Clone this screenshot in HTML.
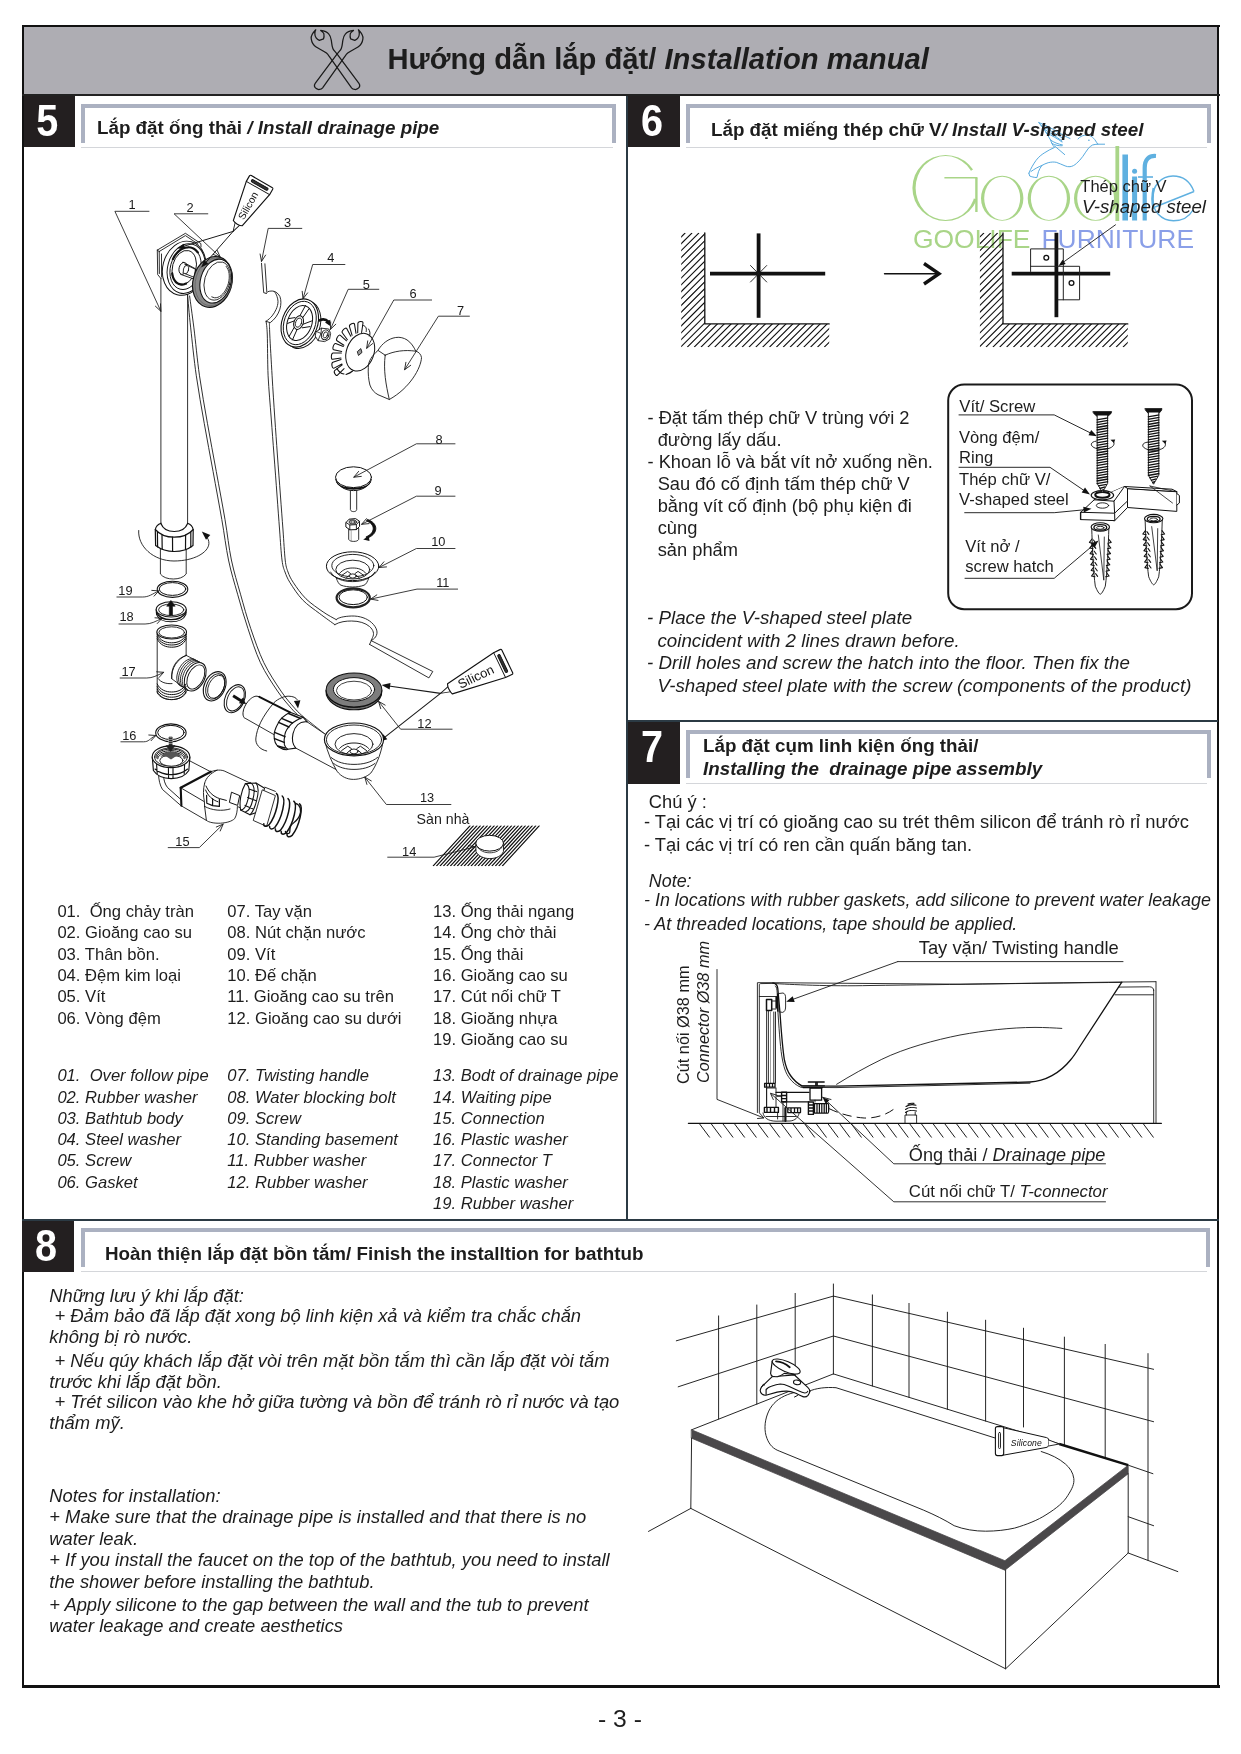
<!DOCTYPE html>
<html lang="vi">
<head>
<meta charset="utf-8">
<title>Installation manual - 3</title>
<style>
html,body{margin:0;padding:0;background:#fff;}
body{width:1241px;height:1754px;position:relative;overflow:hidden;font-family:"Liberation Sans",sans-serif;color:#1a1a1a;}
.abs{position:absolute;}
.t{position:absolute;white-space:pre;line-height:1;color:#1d1d1d;}
.b{font-weight:bold;}
.i{font-style:italic;}
.num{will-change:transform;position:absolute;background:#231f20;color:#fff;font-weight:bold;font-size:45px;line-height:1;text-align:center;}
.bar{position:absolute;border:4px solid #abb1c1;border-bottom:none;box-sizing:border-box;background:#fff;}
.thin{position:absolute;height:1px;background:#d4d6da;}
.dk{position:absolute;background:#2b3a44;}
.bk{position:absolute;background:#111;}
svg{position:absolute;left:0;top:0;overflow:visible;z-index:2;will-change:transform;}
#txt{position:absolute;left:0;top:0;z-index:3;will-change:transform;}
</style>
</head>
<body>
<!-- header band -->
<div class="abs" style="left:24px;top:27px;width:1194px;height:68px;background:#aeadb3;"></div>
<!-- outer frame -->
<div class="bk" style="left:22px;top:25px;width:1197.5px;height:2.2px;"></div>
<div class="bk" style="left:22px;top:1685.4px;width:1197.5px;height:2.3px;"></div>
<div class="bk" style="left:22px;top:25px;width:2.2px;height:1662.7px;"></div>
<div class="bk" style="left:1217.3px;top:25px;width:2.2px;height:1662.8px;"></div>
<div class="bk" style="left:22px;top:94px;width:1197.5px;height:2.3px;background:#222;"></div>
<!-- dividers -->
<div class="dk" style="left:626px;top:96px;width:2.2px;height:1124px;"></div>
<div class="dk" style="left:627px;top:719.8px;width:591px;height:2.2px;"></div>
<div class="dk" style="left:22px;top:1218.8px;width:1197px;height:2.2px;"></div>

<!-- number boxes -->
<div class="num" style="left:24px;top:96px;width:50.5px;height:51px;"><span class="abs" style="left:-2px;width:100%;top:2px;transform:scaleX(0.88);">5</span></div>
<div class="num" style="left:628px;top:96px;width:52px;height:51px;"><span class="abs" style="left:-2px;width:100%;top:2px;transform:scaleX(0.88);">6</span></div>
<div class="num" style="left:628px;top:722px;width:52px;height:61.5px;"><span class="abs" style="left:-2px;width:100%;top:2px;transform:scaleX(0.88);">7</span></div>
<div class="num" style="left:21.5px;top:1221px;width:52px;height:50.5px;"><span class="abs" style="left:-2px;width:100%;top:2px;transform:scaleX(0.88);">8</span></div>

<!-- title bars -->
<div class="bar" style="left:81px;top:104px;width:535px;height:38.5px;"></div>
<div class="thin" style="left:81px;top:147px;width:532px;"></div>
<div class="bar" style="left:685.5px;top:104px;width:525px;height:38.5px;"></div>
<div class="thin" style="left:686px;top:147px;width:521px;"></div>
<div class="bar" style="left:685.5px;top:729.5px;width:525px;height:48.5px;"></div>
<div class="thin" style="left:686px;top:783px;width:521px;"></div>
<div class="bar" style="left:81px;top:1228.3px;width:1129px;height:38.5px;"></div>
<div class="thin" style="left:81px;top:1271px;width:1126px;"></div>

<!-- TEXT -->
<div id="txt">
<div class="t b" id="h0" style="left:387.5px;top:44.7px;font-size:29.2px;">Hướng dẫn lắp đặt/ <span class="i">Installation manual</span></div>
<div class="t b" id="h5" style="left:97px;top:118.8px;font-size:18.8px;">Lắp đặt ống thải <span class="i">/ Install drainage pipe</span></div>
<div class="t b" id="h6" style="left:711px;top:120.8px;font-size:18.8px;">Lắp đặt miếng thép chữ V<span class="i">/ Install V-shaped steel</span></div>
<div class="t b" id="h7a" style="left:703px;top:737.3px;font-size:18.8px;">Lắp đặt cụm linh kiện ống thải/</div>
<div class="t b i" id="h7b" style="left:703px;top:760.3px;font-size:18.8px;">Installing the  drainage pipe assembly</div>
<div class="t b" id="h8" style="left:105px;top:1244.8px;font-size:18.8px;">Hoàn thiện lắp đặt bồn tắm/ Finish the installtion for bathtub</div>
<div class="t " id="vn0_0" style="left:57.4px;top:903.8px;font-size:16.6px;">01.  Ống chảy tràn</div>
<div class="t " id="vn0_1" style="left:57.4px;top:925.2px;font-size:16.6px;">02. Gioăng cao su</div>
<div class="t " id="vn0_2" style="left:57.4px;top:946.5px;font-size:16.6px;">03. Thân bồn.</div>
<div class="t " id="vn0_3" style="left:57.4px;top:967.9px;font-size:16.6px;">04. Đệm kim loại</div>
<div class="t " id="vn0_4" style="left:57.4px;top:989.2px;font-size:16.6px;">05. Vít</div>
<div class="t " id="vn0_5" style="left:57.4px;top:1010.6px;font-size:16.6px;">06. Vòng đệm</div>
<div class="t i" id="en0_0" style="left:57.4px;top:1068.2px;font-size:16.6px;">01.  Over follow pipe</div>
<div class="t i" id="en0_1" style="left:57.4px;top:1089.5px;font-size:16.6px;">02. Rubber washer</div>
<div class="t i" id="en0_2" style="left:57.4px;top:1110.7px;font-size:16.6px;">03. Bathtub body</div>
<div class="t i" id="en0_3" style="left:57.4px;top:1132.0px;font-size:16.6px;">04. Steel washer</div>
<div class="t i" id="en0_4" style="left:57.4px;top:1153.2px;font-size:16.6px;">05. Screw</div>
<div class="t i" id="en0_5" style="left:57.4px;top:1174.5px;font-size:16.6px;">06. Gasket</div>
<div class="t " id="vn1_0" style="left:227.3px;top:903.8px;font-size:16.6px;">07. Tay vặn</div>
<div class="t " id="vn1_1" style="left:227.3px;top:925.2px;font-size:16.6px;">08. Nút chặn nước</div>
<div class="t " id="vn1_2" style="left:227.3px;top:946.5px;font-size:16.6px;">09. Vít</div>
<div class="t " id="vn1_3" style="left:227.3px;top:967.9px;font-size:16.6px;">10. Đế chặn</div>
<div class="t " id="vn1_4" style="left:227.3px;top:989.2px;font-size:16.6px;">11. Gioăng cao su trên</div>
<div class="t " id="vn1_5" style="left:227.3px;top:1010.6px;font-size:16.6px;">12. Gioăng cao su dưới</div>
<div class="t i" id="en1_0" style="left:227.3px;top:1068.2px;font-size:16.6px;">07. Twisting handle</div>
<div class="t i" id="en1_1" style="left:227.3px;top:1089.5px;font-size:16.6px;">08. Water blocking bolt</div>
<div class="t i" id="en1_2" style="left:227.3px;top:1110.7px;font-size:16.6px;">09. Screw</div>
<div class="t i" id="en1_3" style="left:227.3px;top:1132.0px;font-size:16.6px;">10. Standing basement</div>
<div class="t i" id="en1_4" style="left:227.3px;top:1153.2px;font-size:16.6px;">11. Rubber washer</div>
<div class="t i" id="en1_5" style="left:227.3px;top:1174.5px;font-size:16.6px;">12. Rubber washer</div>
<div class="t " id="vn2_0" style="left:433px;top:903.8px;font-size:16.6px;">13. Ống thải ngang</div>
<div class="t " id="vn2_1" style="left:433px;top:925.2px;font-size:16.6px;">14. Ống chờ thải</div>
<div class="t " id="vn2_2" style="left:433px;top:946.5px;font-size:16.6px;">15. Ống thải</div>
<div class="t " id="vn2_3" style="left:433px;top:967.9px;font-size:16.6px;">16. Gioăng cao su</div>
<div class="t " id="vn2_4" style="left:433px;top:989.2px;font-size:16.6px;">17. Cút nối chữ T</div>
<div class="t " id="vn2_5" style="left:433px;top:1010.6px;font-size:16.6px;">18. Gioăng nhựa</div>
<div class="t " id="vn2_6" style="left:433px;top:1031.9px;font-size:16.6px;">19. Gioăng cao su</div>
<div class="t i" id="en2_0" style="left:433px;top:1068.2px;font-size:16.6px;">13. Bodt of drainage pipe</div>
<div class="t i" id="en2_1" style="left:433px;top:1089.5px;font-size:16.6px;">14. Waiting pipe</div>
<div class="t i" id="en2_2" style="left:433px;top:1110.7px;font-size:16.6px;">15. Connection</div>
<div class="t i" id="en2_3" style="left:433px;top:1132.0px;font-size:16.6px;">16. Plastic washer</div>
<div class="t i" id="en2_4" style="left:433px;top:1153.2px;font-size:16.6px;">17. Connector T</div>
<div class="t i" id="en2_5" style="left:433px;top:1174.5px;font-size:16.6px;">18. Plastic washer</div>
<div class="t i" id="en2_6" style="left:433px;top:1195.7px;font-size:16.6px;">19. Rubber washer</div>
<div class="t " id="p6v0" style="left:647.5px;top:408.6px;font-size:18.3px;">- Đặt tấm thép chữ V trùng với 2</div>
<div class="t " id="p6v1" style="left:647.5px;top:430.5px;font-size:18.3px;">  đường lấy dấu.</div>
<div class="t " id="p6v2" style="left:647.5px;top:452.7px;font-size:18.3px;">- Khoan lỗ và bắt vít nở xuống nền.</div>
<div class="t " id="p6v3" style="left:647.5px;top:474.8px;font-size:18.3px;">  Sau đó cố định tấm thép chữ V</div>
<div class="t " id="p6v4" style="left:647.5px;top:496.8px;font-size:18.3px;">  bằng vít cố định (bộ phụ kiện đi</div>
<div class="t " id="p6v5" style="left:647.5px;top:518.7px;font-size:18.3px;">  cùng</div>
<div class="t " id="p6v6" style="left:647.5px;top:540.6px;font-size:18.3px;">  sản phẩm</div>
<div class="t i" id="p6e0" style="left:647px;top:608.8px;font-size:18.75px;">- Place the V-shaped steel plate</div>
<div class="t i" id="p6e1" style="left:647px;top:632.0px;font-size:18.75px;">  coincident with 2 lines drawn before.</div>
<div class="t i" id="p6e2" style="left:647px;top:653.8px;font-size:18.75px;">- Drill holes and screw the hatch into the floor. Then fix the</div>
<div class="t i" id="p6e3" style="left:647px;top:676.5px;font-size:18.75px;">  V-shaped steel plate with the screw (components of the product)</div>
<div class="t " id="p7a" style="left:648.8px;top:792.7px;font-size:18.3px;">Chú ý :</div>
<div class="t " id="p7b" style="left:644px;top:813.2px;font-size:18.35px;">- Tại các vị trí có gioăng cao su trét thêm silicon để tránh rò rỉ nước</div>
<div class="t " id="p7c" style="left:644px;top:836.3px;font-size:18.35px;">- Tại các vị trí có ren cần quấn băng tan.</div>
<div class="t i" id="p7d" style="left:648.8px;top:872.7px;font-size:17.9px;">Note:</div>
<div class="t i" id="p7e" style="left:644px;top:892.4px;font-size:17.9px;">- In locations with rubber gaskets, add silicone to prevent water leakage</div>
<div class="t i" id="p7f" style="left:644px;top:915.5px;font-size:17.9px;">- At threaded locations, tape should be applied.</div>
<div class="t " id="p7g" style="left:918.7px;top:939.3px;font-size:18.4px;">Tay vặn/ Twisting handle</div>
<div class="t " id="p7h" style="left:908.8px;top:1146.3px;font-size:18.15px;">Ống thải / <span class="i">Drainage pipe</span></div>
<div class="t " id="p7i" style="left:908.8px;top:1183.5px;font-size:16.8px;">Cút nối chữ T/ <span class="i">T-connector</span></div>
<div class="t" id="p7j" style="left:674.5px;top:1083.9px;font-size:16.3px;transform-origin:0 0;transform:rotate(-90deg);">Cút nối Ø38 mm</div>
<div class="t i" id="p7k" style="left:695.2px;top:1083.4px;font-size:16.3px;transform-origin:0 0;transform:rotate(-90deg);">Connector Ø38 mm</div>
<div class="t " id="l6a" style="left:1080.3px;top:177.6px;font-size:16.5px;">Thép chữ V</div>
<div class="t i" id="l6b" style="left:1082px;top:198.1px;font-size:18.7px;">V-shaped steel</div>
<div class="t " id="l6c" style="left:959.3px;top:399.2px;font-size:16.7px;">Vít/ Screw</div>
<div class="t " id="l6d" style="left:959px;top:430.4px;font-size:16.6px;">Vòng đệm/</div>
<div class="t " id="l6e" style="left:959px;top:449.9px;font-size:16.6px;">Ring</div>
<div class="t " id="l6f" style="left:959px;top:472.4px;font-size:16.6px;">Thép chữ V/</div>
<div class="t " id="l6g" style="left:959px;top:492.2px;font-size:16.6px;">V-shaped steel</div>
<div class="t " id="l6h" style="left:965.3px;top:539.3px;font-size:16.6px;">Vít nở /</div>
<div class="t " id="l6i" style="left:965.3px;top:559.3px;font-size:16.6px;">screw hatch</div>
<div class="t i" id="p8v0" style="left:49.3px;top:1287.0px;font-size:18.35px;">Những lưu ý khi lắp đặt:</div>
<div class="t i" id="p8v1" style="left:49.3px;top:1307.2px;font-size:18.35px;"> + Đảm bảo đã lắp đặt xong bộ linh kiện xả và kiểm tra chắc chắn</div>
<div class="t i" id="p8v2" style="left:49.3px;top:1328.1px;font-size:18.35px;">không bị rò nước.</div>
<div class="t i" id="p8v3" style="left:49.3px;top:1352.2px;font-size:18.35px;"> + Nếu qúy khách lắp đặt vòi trên mặt bồn tắm thì cần lắp đặt vòi tắm</div>
<div class="t i" id="p8v4" style="left:49.3px;top:1372.6px;font-size:18.35px;">trước khi lắp đặt bồn.</div>
<div class="t i" id="p8v5" style="left:49.3px;top:1393.3px;font-size:18.35px;"> + Trét silicon vào khe hở giữa tường và bồn để tránh rò rỉ nước và tạo</div>
<div class="t i" id="p8v6" style="left:49.3px;top:1413.7px;font-size:18.35px;">thẩm mỹ.</div>
<div class="t i" id="p8e0" style="left:49.3px;top:1487.4px;font-size:18.35px;">Notes for installation:</div>
<div class="t i" id="p8e1" style="left:49.3px;top:1508.0px;font-size:18.35px;">+ Make sure that the drainage pipe is installed and that there is no</div>
<div class="t i" id="p8e2" style="left:49.3px;top:1529.7px;font-size:18.35px;">water leak.</div>
<div class="t i" id="p8e3" style="left:49.3px;top:1551.4px;font-size:18.35px;">+ If you install the faucet on the top of the bathtub, you need to install</div>
<div class="t i" id="p8e4" style="left:49.3px;top:1573.2px;font-size:18.35px;">the shower before installing the bathtub.</div>
<div class="t i" id="p8e5" style="left:49.3px;top:1595.6px;font-size:18.35px;">+ Apply silicone to the gap between the wall and the tub to prevent</div>
<div class="t i" id="p8e6" style="left:49.3px;top:1617.2px;font-size:18.35px;">water leakage and create aesthetics</div>
<div class="t " id="pg" style="left:598px;top:1707.3px;font-size:24.7px;">- 3 -</div>
<div class="t " id="san" style="left:416.6px;top:811.5px;font-size:14.2px;">Sàn nhà</div>
</div>

<svg id="art" width="1241" height="1754" viewBox="0 0 1241 1754" fill="none" stroke="#1a1a1a" stroke-width="1" stroke-linecap="round" stroke-linejoin="round">
<g id="art_p6">
<g id="logo" fill="none" stroke-linecap="butt">
<clipPath id="gclip"><path d="M900 140L962 140L978 166L946 188L978 200L1000 200L1000 230L900 230Z"/></clipPath>
<g clip-path="url(#gclip)"><path fill-rule="evenodd" fill="#a9d588" stroke="none" d="M912.4 188A33.2 33 0 1 0 978.8000000000001 188A33.2 33 0 1 0 912.4 188ZM915.6 188A30 32 0 1 0 975.6 188A30 32 0 1 0 915.6 188Z"/></g>
<path d="M944.4 177.8L977.4 177.8" stroke="#a9d588" stroke-width="1.6"/>
<path d="M976.4 177.8L976.4 212" stroke="#a9d588" stroke-width="2.4"/>
<path fill-rule="evenodd" fill="#a9d588" stroke="none" d="M981.0 198.3A21.2 22.5 0 1 0 1023.4000000000001 198.3A21.2 22.5 0 1 0 981.0 198.3ZM984.2 198.3A18 21.6 0 1 0 1020.2 198.3A18 21.6 0 1 0 984.2 198.3Z"/>
<path fill-rule="evenodd" fill="#a9d588" stroke="none" d="M1027.7 198.3A21.2 22.5 0 1 0 1070.1000000000001 198.3A21.2 22.5 0 1 0 1027.7 198.3ZM1030.9 198.3A18 21.6 0 1 0 1066.9 198.3A18 21.6 0 1 0 1030.9 198.3Z"/>
<path fill-rule="evenodd" fill="#a9d588" stroke="none" d="M1074.0 198.3A21.6 22.5 0 1 0 1117.1999999999998 198.3A21.6 22.5 0 1 0 1074.0 198.3ZM1077.1999999999998 198.3A18.4 21.6 0 1 0 1114.0 198.3A18.4 21.6 0 1 0 1077.1999999999998 198.3Z"/>
<line x1="1117.3" y1="146" x2="1117.3" y2="221" stroke-width="3.8" stroke="#a9d588"/>
<line x1="1125.2" y1="154.5" x2="1125.2" y2="220.5" stroke-width="5.6" stroke="#5fb0e0"/>
<line x1="1134.6" y1="176.5" x2="1134.6" y2="220.5" stroke-width="5" stroke="#5fb0e0"/>
<circle cx="1134.6" cy="171.3" r="2.5" fill="#5fb0e0" stroke="none"/>
<path d="M1144.7 220.5L1144.7 168C1144.7 159 1149 155.5 1156 156" stroke="#5fb0e0" stroke-width="4.2"/>
<line x1="1138" y1="177" x2="1153" y2="177" stroke-width="1.6" stroke="#5fb0e0"/>
<path d="M1194 191.5L1155 207M1194 191.5C1190 181 1182 176 1173 176C1161 176 1152.5 186 1152.5 198.5C1152.5 211 1161 220.8 1173.5 220.8C1182 220.8 1189 217 1193 210" stroke="#5fb0e0" stroke-width="1.4"/>
<path d="M1153.8 188C1152.2 195 1152.2 203 1153.8 209" stroke="#5fb0e0" stroke-width="2.6"/>
<path d="M1028.9 173.2C1031 168 1033.5 164 1036.1 160.3C1039 156.5 1041.5 154.8 1044.2 153C1047.5 150.8 1051 149 1054.6 147.4C1052.5 145 1051.3 142.5 1050.6 140.1C1048.5 136.5 1046.5 133 1044.2 129.7C1042.5 127 1040.5 124.6 1038.5 122.4C1045 125 1052 128.5 1058 132C1062 134.5 1066.5 137 1070 138.5M1041 125.5C1048 129 1056 134 1064 139M1043 128.5C1049 132 1056 136.5 1062 141M1046 132.6C1052 135.6 1058 139 1062 142M1050.6 140.1C1054 142.5 1058 144 1062.5 145M1052 143.5C1055 145.2 1059 146 1062 145.8M1054.6 146L1064.7 154.6M1078 138.9C1080 136.8 1082 135.6 1084.5 135.3C1087 135 1089 135.4 1090.9 136.1C1093 137.5 1094.5 139 1095.7 141C1096.5 142.2 1097.2 143.3 1097.8 144.2L1104.6 144.2M1097.8 144.2C1096 144.3 1094 144.5 1092.5 145C1091 145.8 1089.8 147 1088.5 148.2C1086.5 150.8 1084.8 153.5 1082.9 156.3C1081 159 1078.8 161.4 1076.4 163.5C1074.5 165.2 1072.4 166.4 1070 166.7C1068.2 166.9 1066.6 166.5 1065.1 165.9C1062 164.8 1059.2 163.2 1056.3 162.3C1053.5 161.8 1051 162 1048.2 162.7C1046 163.4 1043.8 164.3 1041.8 165.5C1040.4 167.5 1039.3 169.5 1038.5 171.6L1036.9 177.6C1034 177.4 1031.5 176.8 1029.7 176L1028.9 173.2M1031 171.5C1034.5 169 1038 167 1041.8 165.5" stroke="#4fa5dc" stroke-width="0.95" stroke-linecap="round"/>
<circle cx="1088.9" cy="140.2" r="0.8" fill="#4fa5dc" stroke="none"/>
</g>
<text x="913" y="248.3" font-family="Liberation Sans, sans-serif" font-size="26.4" fill="#a9d588" stroke="none" textLength="117.5" lengthAdjust="spacingAndGlyphs">GOOLIFE</text>
<text x="1041.5" y="248.3" font-family="Liberation Sans, sans-serif" font-size="26.4" fill="#8a9fe8" stroke="none" textLength="152.5" lengthAdjust="spacingAndGlyphs">FURNITURE</text>
<clipPath id="hc1"><path d="M681.2 232.8L704.8 232.8L704.8 323.9L829.2 323.9L829.2 347.2L681.2 347.2Z"/></clipPath><g clip-path="url(#hc1)" stroke="#111" stroke-width="1.15" stroke-linecap="butt"><path d="M564 347.2L678.4 232.8M570.9 347.2L685.3 232.8M577.7 347.2L692.1 232.8M584.6 347.2L699 232.8M591.4 347.2L705.8 232.8M598.3 347.2L712.7 232.8M605.1 347.2L719.5 232.8M612 347.2L726.4 232.8M618.8 347.2L733.2 232.8M625.7 347.2L740.1 232.8M632.5 347.2L746.9 232.8M639.4 347.2L753.8 232.8M646.2 347.2L760.6 232.8M653.1 347.2L767.5 232.8M659.9 347.2L774.3 232.8M666.8 347.2L781.2 232.8M673.6 347.2L788 232.8M680.5 347.2L794.9 232.8M687.3 347.2L801.7 232.8M694.2 347.2L808.6 232.8M701 347.2L815.4 232.8M707.9 347.2L822.3 232.8M714.7 347.2L829.1 232.8M721.6 347.2L836 232.8M728.4 347.2L842.8 232.8M735.3 347.2L849.7 232.8M742.1 347.2L856.5 232.8M749 347.2L863.4 232.8M755.8 347.2L870.2 232.8M762.7 347.2L877.1 232.8M769.5 347.2L883.9 232.8M776.4 347.2L890.8 232.8M783.2 347.2L897.6 232.8M790.1 347.2L904.5 232.8M796.9 347.2L911.3 232.8M803.8 347.2L918.2 232.8M810.6 347.2L925 232.8M817.5 347.2L931.9 232.8M824.3 347.2L938.7 232.8"/></g><path d="M704.8 232.8L704.8 323.9L829.2 323.9" stroke-width="1.3" stroke="#111"/>
<clipPath id="hc2"><path d="M979.9 232.8L1003 232.8L1003 323.9L1127.8 323.9L1127.8 347.2L979.9 347.2Z"/></clipPath><g clip-path="url(#hc2)" stroke="#111" stroke-width="1.15" stroke-linecap="butt"><path d="M862.7 347.2L977.1 232.8M869.6 347.2L984 232.8M876.4 347.2L990.8 232.8M883.3 347.2L997.7 232.8M890.1 347.2L1004.5 232.8M897 347.2L1011.4 232.8M903.8 347.2L1018.2 232.8M910.7 347.2L1025.1 232.8M917.5 347.2L1031.9 232.8M924.4 347.2L1038.8 232.8M931.2 347.2L1045.6 232.8M938.1 347.2L1052.5 232.8M944.9 347.2L1059.3 232.8M951.8 347.2L1066.2 232.8M958.6 347.2L1073 232.8M965.5 347.2L1079.9 232.8M972.3 347.2L1086.7 232.8M979.2 347.2L1093.6 232.8M986 347.2L1100.4 232.8M992.9 347.2L1107.3 232.8M999.7 347.2L1114.1 232.8M1006.6 347.2L1121 232.8M1013.4 347.2L1127.8 232.8M1020.3 347.2L1134.7 232.8M1027.1 347.2L1141.5 232.8M1034 347.2L1148.4 232.8M1040.8 347.2L1155.2 232.8M1047.7 347.2L1162.1 232.8M1054.5 347.2L1168.9 232.8M1061.4 347.2L1175.8 232.8M1068.2 347.2L1182.6 232.8M1075 347.2L1189.5 232.8M1081.9 347.2L1196.3 232.8M1088.7 347.2L1203.1 232.8M1095.6 347.2L1210 232.8M1102.4 347.2L1216.8 232.8M1109.3 347.2L1223.7 232.8M1116.1 347.2L1230.5 232.8M1123 347.2L1237.4 232.8"/></g><path d="M1003 232.8L1003 323.9L1127.8 323.9" stroke-width="1.3" stroke="#111"/>
<line x1="758.6" y1="233.4" x2="758.6" y2="317.8" stroke-width="3.8" stroke="#111" stroke-linecap="butt"/>
<line x1="710" y1="273.7" x2="825.2" y2="273.7" stroke-width="3.8" stroke="#111" stroke-linecap="butt"/>
<line x1="750.5" y1="265.5" x2="766.7" y2="282" stroke-width="0.9"/>
<line x1="766.7" y1="265.5" x2="750.5" y2="282" stroke-width="0.9"/>
<line x1="884.5" y1="273.7" x2="937" y2="273.7" stroke-width="1.4" stroke="#111"/>
<path d="M924 263.5L939 273.7L924 284" stroke-width="3.4" stroke="#111" stroke-linejoin="miter" stroke-linecap="butt"/>
<line x1="1056.4" y1="232.8" x2="1056.4" y2="317.2" stroke-width="3.8" stroke="#111" stroke-linecap="butt"/>
<line x1="1011.7" y1="273.6" x2="1110.2" y2="273.6" stroke-width="3.8" stroke="#111" stroke-linecap="butt"/>
<path d="M1030.6 271.5L1030.6 248.9L1063.3 248.9L1063.3 299.8M1030.6 266.3L1079.6 266.3L1079.6 299.8L1058 299.8" stroke-width="1" stroke="#222"/>
<circle cx="1046.3" cy="257.7" r="2.4" stroke-width="1.3" stroke="#111"/>
<circle cx="1071.5" cy="283" r="2.4" stroke-width="1.3" stroke="#111"/>
<line x1="1115.5" y1="224.8" x2="1061.5" y2="263.5" stroke-width="0.9"/>
<path d="M1058.5 266L1062.6 259.8L1065.7 264Z" fill="#111" stroke="none"/>
</g>
<g id="art_box">
<rect x="948.2" y="384.6" width="243.8" height="224.6" rx="16" ry="16" stroke-width="2" stroke="#1a1a1a" fill="none"/>
<path d="M1091.7 527C1092.3 547 1093.3 572 1095.3 586.2C1097.3 591.2 1099.3 594.2 1100.3 594.2C1101.3 594.2 1103.3 591.2 1105.3 586.2C1107.3 572 1108.3 547 1108.8999999999999 527" stroke-width="0.9" stroke="#111" fill="#fff"/><path d="M1098.3 535L1103.8 580.2L1104.3 537" stroke-width="0.8" stroke="#111"/><path d="M1092 539L1089.4 542.4L1092.8 543.2M1108.6 539L1111.2 542.4L1107.8 543.2M1093.5 540L1095.5 542.8M1092.3 544.6L1089.8 548L1093.1 548.8M1108.2 544.6L1110.8 548L1107.5 548.8M1093.8 545.6L1095.8 548.4M1092.7 550.2L1090.1 553.6L1093.5 554.4M1107.9 550.2L1110.5 553.6L1107.1 554.4M1094.2 551.2L1096.2 554M1093 555.8L1090.5 559.2L1093.8 560M1107.5 555.8L1110.1 559.2L1106.8 560M1094.5 556.8L1096.5 559.6M1093.4 561.4L1090.8 564.8L1094.2 565.6M1107.2 561.4L1109.8 564.8L1106.4 565.6M1094.9 562.4L1096.9 565.2M1093.8 567L1091.2 570.4L1094.5 571.2M1106.8 567L1109.4 570.4L1106 571.2M1095.2 568L1097.2 570.8M1094.1 572.6L1091.5 576L1094.9 576.8M1106.5 572.6L1109.1 576L1105.7 576.8M1095.6 573.6L1097.6 576.4" stroke-width="1.1" stroke="#111" fill="none"/><ellipse cx="1100.3" cy="527" rx="9.2" ry="4.2" stroke-width="1.1" stroke="#111" fill="#fff"/><ellipse cx="1100.3" cy="527.4" rx="6.4" ry="2.7" stroke-width="1.3" stroke="#111" fill="#fff"/><ellipse cx="1100.3" cy="527.8" rx="3.8" ry="1.5" stroke-width="0.9" stroke="#111"/>
<path d="M1145.1000000000001 518.6C1145.7 538.6 1146.7 563.6 1148.7 576.8C1150.7 581.8 1152.7 584.8 1153.7 584.8C1154.7 584.8 1156.7 581.8 1158.7 576.8C1160.7 563.6 1161.7 538.6 1162.3 518.6" stroke-width="0.9" stroke="#111" fill="#fff"/><path d="M1151.7 526.6L1157.2 570.8L1157.7 528.6" stroke-width="0.8" stroke="#111"/><path d="M1145.4 530.6L1142.8 534L1146.2 534.8M1162 530.6L1164.6 534L1161.2 534.8M1146.9 531.6L1148.9 534.4M1145.8 536.2L1143.2 539.6L1146.5 540.4M1161.7 536.2L1164.2 539.6L1160.9 540.4M1147.2 537.2L1149.2 540M1146.1 541.8L1143.5 545.2L1146.9 546M1161.3 541.8L1163.9 545.2L1160.5 546M1147.6 542.8L1149.6 545.6M1146.5 547.4L1143.9 550.8L1147.2 551.6M1161 547.4L1163.5 550.8L1160.2 551.6M1148 548.4L1150 551.2M1146.8 553L1144.2 556.4L1147.6 557.2M1160.6 553L1163.2 556.4L1159.8 557.2M1148.3 554L1150.3 556.8M1147.2 558.6L1144.6 562L1148 562.8M1160.2 558.6L1162.8 562L1159.5 562.8M1148.7 559.6L1150.7 562.4M1147.5 564.2L1144.9 567.6L1148.3 568.4M1159.9 564.2L1162.5 567.6L1159.1 568.4M1149 565.2L1151 568" stroke-width="1.1" stroke="#111" fill="none"/><ellipse cx="1153.7" cy="518.6" rx="9.2" ry="4.2" stroke-width="1.1" stroke="#111" fill="#fff"/><ellipse cx="1153.7" cy="519" rx="6.4" ry="2.7" stroke-width="1.3" stroke="#111" fill="#fff"/><ellipse cx="1153.7" cy="519.4" rx="3.8" ry="1.5" stroke-width="0.9" stroke="#111"/>
<path d="M1127.5 488.5L1176.8 491.6L1176.8 511.4L1127.5 507.5Z" stroke-width="1" stroke="#111" fill="#fff"/>
<path d="M1127.5 488.5L1124.5 486.5L1172 489.2L1176.8 491.6Z" stroke-width="1" stroke="#111" fill="#fff"/>
<path d="M1176.8 493.5L1179.4 495.5L1179.4 503L1176.8 505" stroke-width="1" stroke="#111" fill="#fff"/>
<path d="M1080.8 512.3L1094.2 499.8L1124.5 486.5L1127.5 488.5L1127.5 507.5L1114.8 520.6Z" stroke-width="1" stroke="#111" fill="#fff"/>
<path d="M1094.2 499.8L1114 501.2L1124.5 486.5" stroke-width="1" stroke="#111" fill="#fff"/>
<path d="M1114 501.2L1114.6 513.2L1127.5 501" stroke-width="1" stroke="#111" fill="#fff"/>
<path d="M1080.8 512.3L1114.6 513.2L1114.8 520.6L1080.8 519.6Z" stroke-width="1" stroke="#111" fill="#fff"/>
<path d="M1080.8 512.3L1080.8 519.6" stroke-width="1" stroke="#111" fill="#fff"/>
<ellipse cx="1102.5" cy="505.5" rx="6.2" ry="2.7" stroke-width="0.9" stroke="#111" fill="#fff"/>
<line x1="1150" y1="486" x2="1172.5" y2="503" stroke-width="0.8"/>
<line x1="1150" y1="486" x2="1175" y2="491.5" stroke-width="0.8"/>
<ellipse cx="1102.4" cy="495.2" rx="11.2" ry="4.6" stroke-width="1.2" stroke="#111" fill="#fff"/>
<ellipse cx="1102.4" cy="494.8" rx="7.2" ry="2.9" stroke-width="2.0" stroke="#111" fill="#fff"/>
<path d="M1093.2 411.6L1111.6000000000001 411.6L1111.1000000000001 413.40000000000003L1107.6000000000001 416.6L1097.2 416.6L1093.7 413.40000000000003Z" fill="#111" stroke="#111" stroke-width="0.8"/><path d="M1097.2 415.6L1097.2 483.5L1102.4 492.5L1107.6000000000001 483.5L1107.6000000000001 415.6" stroke-width="0.9" stroke="#111" fill="#fff"/><path d="M1096.6000000000001 419.8L1108.2 417.8M1096.6000000000001 422.4L1108.2 420.4M1096.6000000000001 424.9L1108.2 422.9M1096.6000000000001 427.5L1108.2 425.5M1096.6000000000001 430L1108.2 428M1096.6000000000001 432.6L1108.2 430.6M1096.6000000000001 435.1L1108.2 433.1M1096.6000000000001 437.7L1108.2 435.7M1096.6000000000001 440.2L1108.2 438.2M1096.6000000000001 442.8L1108.2 440.8M1096.6000000000001 445.3L1108.2 443.3M1096.6000000000001 447.9L1108.2 445.9M1096.6000000000001 450.4L1108.2 448.4M1096.6000000000001 453L1108.2 451M1096.6000000000001 455.5L1108.2 453.5M1096.6000000000001 458.1L1108.2 456.1M1096.6000000000001 460.6L1108.2 458.6M1096.6000000000001 463.2L1108.2 461.2M1096.6000000000001 465.7L1108.2 463.7M1096.6000000000001 468.3L1108.2 466.3M1096.6000000000001 470.8L1108.2 468.8M1096.6000000000001 473.4L1108.2 471.4M1096.6000000000001 475.9L1108.2 473.9M1096.6000000000001 478.5L1108.2 476.5M1096.6000000000001 481L1108.2 479M1096.6000000000001 483.6L1108.2 481.6M1098 485.9L1106.8 484.3M1099.5 488.5L1105.3 486.9M1101 491L1103.8 489.4" stroke-width="1.35" stroke="#111" stroke-linecap="butt"/>
<path d="M1145.1999999999998 408.6L1162.0 408.6L1161.5 410.40000000000003L1158.8 413.6L1148.3999999999999 413.6L1145.6999999999998 410.40000000000003Z" fill="#111" stroke="#111" stroke-width="0.8"/><path d="M1148.3999999999999 412.6L1148.3999999999999 475.2L1153.6 484.2L1158.8 475.2L1158.8 412.6" stroke-width="0.9" stroke="#111" fill="#fff"/><path d="M1147.8 416.8L1159.3999999999999 414.8M1147.8 419.4L1159.3999999999999 417.4M1147.8 421.9L1159.3999999999999 419.9M1147.8 424.5L1159.3999999999999 422.5M1147.8 427L1159.3999999999999 425M1147.8 429.6L1159.3999999999999 427.6M1147.8 432.1L1159.3999999999999 430.1M1147.8 434.7L1159.3999999999999 432.7M1147.8 437.2L1159.3999999999999 435.2M1147.8 439.8L1159.3999999999999 437.8M1147.8 442.3L1159.3999999999999 440.3M1147.8 444.9L1159.3999999999999 442.9M1147.8 447.4L1159.3999999999999 445.4M1147.8 450L1159.3999999999999 448M1147.8 452.5L1159.3999999999999 450.5M1147.8 455.1L1159.3999999999999 453.1M1147.8 457.6L1159.3999999999999 455.6M1147.8 460.2L1159.3999999999999 458.2M1147.8 462.7L1159.3999999999999 460.7M1147.8 465.3L1159.3999999999999 463.3M1147.8 467.8L1159.3999999999999 465.8M1147.8 470.4L1159.3999999999999 468.4M1147.8 472.9L1159.3999999999999 470.9M1147.8 475.5L1159.3999999999999 473.5M1149.3 477.8L1157.9 476.2M1150.8 480.4L1156.4 478.8M1152.3 482.9L1154.9 481.3" stroke-width="1.35" stroke="#111" stroke-linecap="butt"/>
<path d="M1096.4 441.09999999999997C1087.9 441.9 1089.9 449.1 1102.4 449.3C1113.9 449.1 1115.9 443.5 1112.9 440.9" stroke-width="0.9" stroke="#111"/><path d="M1110.4 439.7L1115.2 439.5L1114 442.9Z" fill="#111" stroke="none"/>
<path d="M1147.8 442.09999999999997C1139.3 442.9 1141.3 450.1 1153.8 450.3C1165.3 450.1 1167.3 444.5 1164.3 441.9" stroke-width="0.9" stroke="#111"/><path d="M1161.8 440.7L1166.6 440.5L1165.4 443.9Z" fill="#111" stroke="none"/>
<path d="M959 414.9L1054.2 414.9L1091 433.2" stroke-width="0.9" stroke="#111"/>
<path d="M1097 436.3L1088.5 435.3L1091.2 430Z" fill="#111" stroke="none"/>
<path d="M959 467.3L1050 467.3L1084.5 490.8" stroke-width="0.9" stroke="#111"/>
<path d="M1090 494.6L1081.7 492.6L1085 487.6Z" fill="#111" stroke="none"/>
<path d="M964.7 512.7L1054.2 512.7L1085 509.7" stroke-width="0.9" stroke="#111"/>
<path d="M1091.5 508.8L1083.9 512.6L1083.2 506.7Z" fill="#111" stroke="none"/>
<path d="M965 578.3L1054.2 578.3L1094 544.5" stroke-width="0.9" stroke="#111"/>
<path d="M1098.5 540.4L1094.4 547.9L1090.5 543.4Z" fill="#111" stroke="none"/>
</g>
<g id="art_hdr">
<path d="M358.4 29.8C361.5 33 363.5 36 362.9 38.8C362.5 42 361.5 44.6 358 47C354.8 49.1 351 50.5 347.7 53C346.5 54 345.5 55.5 345.1 56.2L322.6 87.8C321 89.8 318 90 316.3 88.6C314.2 87 314 85 315.2 83.3L336.8 54.3C339.5 51 340.8 50 341.3 48.5C342.5 45.5 342.3 43 342.9 40.1C343.3 37.5 344 35.5 345.1 34.3C347 32 350 30.8 353.5 30.4C352 31.5 350.5 32.5 350.3 33.7C350 35.5 350 37.5 350.6 38.8L354.8 40.4C356 39.8 357.2 39 358 37.9C359 36.5 359.3 35 359.3 33.7C359.3 32.3 359 31 358.4 29.8Z" stroke="#1a1a1a" stroke-width="1.25" fill="none"/>
<path d="M358.4 29.8C361.5 33 363.5 36 362.9 38.8C362.5 42 361.5 44.6 358 47C354.8 49.1 351 50.5 347.7 53C346.5 54 345.5 55.5 345.1 56.2L322.6 87.8C321 89.8 318 90 316.3 88.6C314.2 87 314 85 315.2 83.3L336.8 54.3C339.5 51 340.8 50 341.3 48.5C342.5 45.5 342.3 43 342.9 40.1C343.3 37.5 344 35.5 345.1 34.3C347 32 350 30.8 353.5 30.4C352 31.5 350.5 32.5 350.3 33.7C350 35.5 350 37.5 350.6 38.8L354.8 40.4C356 39.8 357.2 39 358 37.9C359 36.5 359.3 35 359.3 33.7C359.3 32.3 359 31 358.4 29.8Z" transform="translate(674.15 0) scale(-1 1)" stroke="#1a1a1a" stroke-width="1.25" fill="none"/>
</g>
<g id="art_p7">
<line x1="688.4" y1="1123.3" x2="1161.4" y2="1123.3" stroke-width="1.3" stroke="#111"/>
<path d="M699.5 1123.8L709.5 1137.2M711.2 1123.8L721.2 1137.2M722.9 1123.8L732.9 1137.2M734.5 1123.8L744.5 1137.2M746.2 1123.8L756.2 1137.2M757.9 1123.8L767.9 1137.2M769.6 1123.8L779.6 1137.2M781.3 1123.8L791.3 1137.2M792.9 1123.8L802.9 1137.2M804.6 1123.8L814.6 1137.2M816.3 1123.8L826.3 1137.2M828 1123.8L838 1137.2M839.7 1123.8L849.7 1137.2M851.3 1123.8L861.3 1137.2M863 1123.8L873 1137.2M874.7 1123.8L884.7 1137.2M886.4 1123.8L896.4 1137.2M898.1 1123.8L908.1 1137.2M909.7 1123.8L919.7 1137.2M921.4 1123.8L931.4 1137.2M933.1 1123.8L943.1 1137.2M944.8 1123.8L954.8 1137.2M956.5 1123.8L966.5 1137.2M968.1 1123.8L978.1 1137.2M979.8 1123.8L989.8 1137.2M991.5 1123.8L1001.5 1137.2M1003.2 1123.8L1013.2 1137.2M1014.9 1123.8L1024.9 1137.2M1026.5 1123.8L1036.5 1137.2M1038.2 1123.8L1048.2 1137.2M1049.9 1123.8L1059.9 1137.2M1061.6 1123.8L1071.6 1137.2M1073.3 1123.8L1083.3 1137.2M1084.9 1123.8L1094.9 1137.2M1096.6 1123.8L1106.6 1137.2M1108.3 1123.8L1118.3 1137.2M1120 1123.8L1130 1137.2M1131.7 1123.8L1141.7 1137.2M1143.3 1123.8L1153.3 1137.2" stroke="#111" stroke-width="0.95"/>
<path d="M757.4 1112.5L757.4 982.7L772.8 982.7L960 984.2L1121.8 982L1155.8 981.7" stroke="#1a1a1a" stroke-width="0.9" fill="none"/>
<path d="M759.3 1112.5L759.3 985C759.3 984 760 983.6 761 983.6L772 983.4C790 984.5 830 986.5 870 985.5C950 984.5 1050 983 1121.8 982.4" stroke="#1a1a1a" stroke-width="0.9" fill="none"/>
<path d="M759.3 996.5L777 996.5" stroke="#1a1a1a" stroke-width="0.9" fill="none"/>
<path d="M1153.7 990L1153.7 1123.3M1156 981.7L1156 1123.3M1118.9 987.1L1149.5 986.8C1152 986.8 1153.7 988 1153.7 990.5M1115 994.8L1153.7 994.8" stroke="#1a1a1a" stroke-width="0.9" fill="none"/>
<path d="M772.8 982.9C776 983.5 777.5 985 777.8 988.5L780 1013C781.5 1035 782.5 1048 784.3 1059.3C786 1068 788 1072 790.5 1075.5C794 1080.5 797 1083.5 802 1085.8L836 1086.2L940 1084L1030 1082C1045 1081.5 1060 1073 1070.5 1060C1074 1056 1076.5 1052 1079.2 1047.5L1121.8 982.2" stroke="#111" stroke-width="1.3" fill="none"/>
<path d="M775.5 986C776.8 987 777 990 777.2 993L778 1013C779.5 1035 780.5 1050 782.5 1060C784.5 1070 786.5 1074 789 1077.5C792.5 1082.5 796.5 1085.5 801 1087.3L836 1087.6L940 1085.4L1030 1083.2" stroke="#1a1a1a" stroke-width="0.9" fill="none"/>
<path d="M836.6 1084.3C850 1076 866 1067 881.8 1059.3C905 1048 935 1040 960 1035C985 1030.5 1010 1027.5 1035 1027.4C1045 1027.4 1055 1028 1061.8 1028.4" stroke="#1a1a1a" stroke-width="0.9" fill="none"/>
<path d="M779 993.5L783 993C785 993.5 785.6 995.5 785.6 998L785.6 1007C785.6 1010 784.5 1012 782.5 1012.4L779 1011.8" stroke="#1a1a1a" stroke-width="0.9" fill="none"/>
<path d="M777.8 994L777.8 1011M776.2 997L776.2 1008" stroke="#111" stroke-width="1.6"/>
<rect x="766.5" y="999.6" width="5.2" height="11" stroke="#111" stroke-width="1.5" fill="none"/>
<line x1="771.6" y1="1001" x2="776" y2="1001" stroke-width="0.9"/>
<line x1="771.6" y1="1009" x2="776" y2="1009" stroke-width="0.9"/>
<path d="M766.6 1010.5L766.6 1112M768.4 1010.5L768.4 1083M775.5 1012L775.5 1083M773.8 1012L773.8 1083M766.6 1088L775.5 1088" stroke="#1a1a1a" stroke-width="0.9" fill="none"/>
<path d="M770.5 1012L770.5 1083" stroke="#777" stroke-width="0.7"/>
<path d="M764.6 1083.4L775 1083.4L775 1087.2L764.6 1087.2ZM766.5 1083.4L766.5 1087.2M769.5 1083.4L769.5 1087.2M772.5 1083.4L772.5 1087.2" stroke="#111" stroke-width="1.3" fill="#fff"/>
<path d="M764.4 1107.4L778.4 1107.4L778.4 1112.4L764.4 1112.4ZM767 1107.4L767 1112.4M770.5 1107.4L770.5 1112.4M774.5 1107.4L774.5 1112.4" stroke="#111" stroke-width="1.4" fill="#fff"/>
<path d="M776 1088L776 1107.4M766.6 1088L766.6 1107.4M777.6 1112.4L777.6 1119" stroke="#1a1a1a" stroke-width="0.9" fill="none"/>
<path d="M776 1092.3L809 1092.3M781.6 1101.8L809 1101.8M777 1096L781.5 1096" stroke="#111" stroke-width="1.3" fill="none"/>
<path d="M781.6 1092.3L786.6 1092.3L786.6 1101.8L781.6 1101.8ZM781.6 1095.5L786.6 1095.5M781.6 1098.6L786.6 1098.6" stroke="#111" stroke-width="1.4" fill="#fff"/>
<path d="M810 1088L821.6 1088L821.6 1100.2L810 1100.2Z" stroke="#111" stroke-width="1.3" fill="none"/>
<path d="M801.2 1085.8L824.4 1085.8M803 1087.6L822.5 1087.6M808.3 1082L824.2 1082M815.8 1082L815.8 1085.6M817.2 1082L817.2 1085.6" stroke="#111" stroke-width="1.3" fill="none"/>
<path d="M787.8 1107.8L800.5 1107.8L800.5 1112.6L787.8 1112.6ZM791 1107.8L791 1112.6M794.5 1107.8L794.5 1112.6M797.6 1107.8L797.6 1112.6" stroke="#111" stroke-width="1.3" fill="#fff"/>
<path d="M786.6 1101.8L786.6 1107.8M783 1101.8L783 1121" stroke="#1a1a1a" stroke-width="0.9" fill="none"/>
<path d="M785.4 1108L785.4 1121" stroke="#111" stroke-width="2.2"/>
<path d="M763 1113C764 1118 768 1121 776 1121.2L790 1121C795 1120.6 798.5 1117.5 799.2 1112.8" stroke="#1a1a1a" stroke-width="0.9" fill="none"/>
<path d="M766 1116.5L796 1116.5" stroke="#1a1a1a" stroke-width="0.9" fill="none"/>
<path d="M808.4 1102L813.4 1102L813.4 1114.4L808.4 1114.4ZM808.4 1105L813.4 1105M808.4 1108L813.4 1108M808.4 1111L813.4 1111" stroke="#111" stroke-width="1.4" fill="#fff"/>
<path d="M814.5 1103.5L828 1103.5C829 1103.5 829 1113 828 1113L814.5 1113ZM817 1103.5L817 1113M819.4 1103.5L819.4 1113M821.8 1103.5L821.8 1113M824.2 1103.5L824.2 1113M826.4 1103.5L826.4 1113" stroke="#111" stroke-width="1.25" fill="#fff"/>
<path d="M821.6 1097L831 1099.5M815 1100.2L815 1102" stroke="#1a1a1a" stroke-width="0.9" fill="none"/>
<path d="M829.5 1108.8C838 1113 850 1117 864 1118C878 1118.6 890 1113 897 1106.5" stroke="#111" stroke-width="1" stroke-dasharray="8.5 6" fill="none"/>
<path d="M905 1123L905 1115L916.6 1115L916.6 1123M906.4 1115L906.4 1112M915.2 1115L915.2 1112" stroke="#1a1a1a" stroke-width="0.9" fill="none"/>
<path d="M905.5 1112.5C908 1110.5 913 1110 916.5 1111M905.5 1109.5C908 1107.5 913 1107 916.5 1108M906 1106.5C908.5 1104.8 913 1104.3 916 1105.2M908 1104C910 1103.2 912 1103 914 1103.4" stroke="#111" stroke-width="1.1" fill="none"/>
<path d="M897.8 961.6L1123 961.6M897.8 961.6L790.5 1000.2" stroke="#1a1a1a" stroke-width="0.9" fill="none"/>
<path d="M786.2 1001.8L792.7 996.2L794.7 1001.9Z" fill="#111" stroke="none"/>
<path d="M1105.5 1163.8L893.8 1163.8L824.5 1099" stroke="#1a1a1a" stroke-width="0.9" fill="none"/>
<path d="M822.5 1097.2L829.4 1100.1L825.8 1103.9Z" fill="#111" stroke="none"/>
<path d="M1105.5 1201.8L893.8 1201.8L771.5 1094.2" stroke="#1a1a1a" stroke-width="0.9" fill="none"/>
<path d="M777.1 1095.3L770.4 1093.2L773.3 1099.6" stroke-width="0.9"/>
<path d="M717 969.5L717 1099.4L763 1117.6" stroke="#1a1a1a" stroke-width="0.9" fill="none"/>
<path d="M757.5 1118.5L764 1118L759.6 1113.2" stroke-width="0.9"/>
</g>
<g id="art_p8">
<path d="M676.3 1340.8L833.4 1296.1M678.2 1386.8L833.4 1336M691.6 1429.8L833.4 1373.9" stroke="#1a1a1a" stroke-width="0.95" fill="none"/>
<path d="M718.6 1315.9L718.6 1419M756.8 1305L756.8 1404.2M795.2 1293.4L795.2 1366M795.2 1375L795.2 1388.8M833.4 1284L833.4 1373.9" stroke="#1a1a1a" stroke-width="0.95" fill="none"/>
<path d="M833.4 1296.1L1153.6 1369.3M833.4 1336L1153.6 1421.7M833.4 1373.9L1128.2 1465.2L1152.9 1473.7M1128.2 1516.7L1153.6 1525.7" stroke="#1a1a1a" stroke-width="0.95" fill="none"/>
<path d="M872.4 1294.9L872.4 1386M909 1303.4L909 1397.3M947.4 1312.2L947.4 1409.2M985.6 1320.2L985.6 1421M1023.5 1328.2L1023.5 1427M1064.4 1337.1L1064.4 1445.4M1105.2 1344.4L1105.2 1458.1M1148 1353.6L1148 1560.2" stroke="#1a1a1a" stroke-width="0.95" fill="none"/>
<path d="M691.6 1429.8L1004.9 1560.7L1128.2 1465.2L1128.2 1473.7L1004.9 1570.2L691.6 1438.2Z" fill="#4a484a" stroke="#4a484a" stroke-width="0.8"/>
<path d="M691.6 1438.2L690.8 1508.4L1005.6 1668.8L1128.2 1553L1128.2 1473.7M1005.6 1570L1005.6 1668.8M690.8 1508.4L648.5 1531.4M1128.2 1553L1177.8 1571.6" stroke="#1a1a1a" stroke-width="0.95" fill="none"/>
<path d="M810.2 1391.2C800 1390.5 792 1392.5 784.4 1396C776 1400 770.5 1406 767.5 1414C764.5 1422 764 1431 767 1438.5C769.5 1445 773.5 1449 779.2 1451L923.7 1510.2C935 1515 945 1520 954.2 1525.7C964 1529.5 975 1531.2 985.6 1531.2C996 1531.2 1006 1530 1014.6 1528.1C1027 1524.5 1038 1520 1046 1514.8C1057 1508 1064 1502 1067.8 1495.5C1072 1489 1074.5 1484 1073.8 1478.5C1073 1472.5 1070 1468 1065.4 1464C1059 1458.5 1051 1454.5 1041.2 1451.5" stroke="#1a1a1a" stroke-width="0.95" fill="none"/>
<path d="M808.5 1391.5C816 1388 826 1387 836 1387.7L1003 1440.5" stroke="#1a1a1a" stroke-width="0.95" fill="none"/>
<path d="M794.5 1375L808 1387.6C810.3 1389.8 810.3 1392.5 808 1395.3C806.5 1397 804.5 1397.2 802.9 1396.6C800 1395.5 797.5 1394 795.1 1393C792 1391.7 789 1391 786.1 1391.1C783 1391.2 780 1391.6 777.1 1392.1L766.8 1395C765 1395.4 763.4 1395.2 762.3 1394.3C760.8 1393 760 1391.5 760.3 1390.1C760.5 1388.8 761 1387.8 761.6 1386.9L772.2 1376.6Z" stroke="#111" stroke-width="1.15" fill="#fff"/>
<path d="M766.1 1394.6L766.1 1389.5C767.5 1388 769 1387 771.3 1386.3C774 1385.2 777 1384.2 780.3 1384C783 1384 786 1385 788.7 1386.3L798.4 1390.8C800.5 1391.8 802.8 1392.8 804.8 1393C806.3 1393 807.3 1392.4 807.7 1391.4" stroke="#111" stroke-width="1.15" fill="none"/>
<path d="M761.8 1386.6L763.4 1384.2L764.6 1385M794.5 1397L797.5 1395.5" stroke="#111" stroke-width="1" fill="none"/>
<ellipse cx="797.1" cy="1382.4" rx="3.6" ry="2.3" stroke-width="1.15" stroke="#111" fill="#fff" transform="rotate(8 797.1 1382.4)"/>
<path d="M772.2 1361.1L770.6 1373.4C770.8 1375 771.5 1375.9 772.6 1376.3C774.2 1376.8 776 1376.8 777.7 1376.6C780 1376 782.3 1374.8 784.2 1373.4L795.1 1374.7Z" stroke="#111" stroke-width="1.15" fill="#fff"/>
<ellipse cx="786.2" cy="1366.5" rx="15" ry="5.1" stroke-width="1.15" stroke="#111" fill="#fff" transform="rotate(23 786.2 1366.5)"/>
<path d="M776.1 1361.4C780 1361.6 786 1364 789.7 1367.2" stroke="#111" stroke-width="1.9" fill="none"/>
<path d="M1059.3 1444L1128.2 1465.2" stroke="#111" stroke-width="2.4" stroke-linecap="butt"/>
<path d="M1003.7 1427.8L1046.5 1437.6C1048.5 1438 1049 1439.5 1048.8 1441.5L1048.6 1444.5C1048.5 1446.2 1047.8 1447.2 1046 1447.5L1003.7 1455.1Z" stroke="#111" stroke-width="1" fill="#fff"/>
<path d="M1048.8 1440L1059.3 1444L1048.6 1446" stroke="#111" stroke-width="0.9" fill="#fff"/>
<rect x="995.4" y="1426.6" width="8.3" height="29" rx="2" stroke="#111" stroke-width="1.1" fill="#fff"/>
<rect x="998.6" y="1432.5" width="1.9" height="16" rx="0.9" stroke="#111" stroke-width="0.9" fill="none"/>
<text x="1010.8" y="1446.4" font-family="Liberation Sans, sans-serif" font-style="italic" font-size="8.6" fill="#111" stroke="none" textLength="31" lengthAdjust="spacing">Silicone</text>
</g>
<g id="art_p5">
<path d="M187.5 294.4C188 300 189.2 314.3 190.7 327.9C192.2 341.5 194 359.8 196.3 375.8C198.6 391.8 201.5 407.7 204.3 423.7C207.1 439.7 210.2 455.6 213.1 471.6C216 487.6 219.2 504.8 221.8 519.5C224.4 534.2 225.9 547.5 228.5 560C231.1 572.5 234.4 582.8 237.6 594.2C240.8 605.6 244.1 617 247.9 628.4C251.7 639.8 255.5 652.1 260.4 662.6C265.3 673.1 272.4 683.5 277.5 691.1C282.6 698.7 287.8 704.2 291.2 708.2C294.6 712.2 296.9 714 298 715.1" stroke="#1a1a1a" stroke-width="0.9" fill="none"/>
<path d="M189.6 296C190.3 301.3 192.2 314.6 193.9 327.9C195.6 341.2 197.2 359.8 199.5 375.8C201.8 391.8 204.7 407.7 207.5 423.7C210.3 439.7 213.4 455.6 216.3 471.6C219.2 487.6 222.5 504.8 225 519.5C227.5 534.2 228.8 547.5 231.4 560C234 572.5 237.3 582.8 240.5 594.2C243.7 605.6 246.8 617 250.7 628.4C254.6 639.8 258.8 652.1 263.8 662.6C268.9 673.1 275.9 683.5 281 691.1C286.1 698.7 291 704 294.6 708.2C298.2 712.4 301.3 714.9 302.6 716.2" stroke="#1a1a1a" stroke-width="0.9" fill="none"/>
<line x1="302.6" y1="716.2" x2="325.4" y2="734.4" stroke-width="0.8"/>
<path d="M261.5 263.3L263.7 292.7L266.3 293.4M264.9 263.8L266.8 291.7" stroke="#1a1a1a" stroke-width="0.9" fill="none"/>
<path d="M266.3 293.4C267 292.4 267.4 292 267.8 291.7C269 291.2 270.5 291 272.1 291C273.5 291 274.8 291.4 276 292.2C277.8 293.2 279 294.8 279.9 296.5C280.6 298.3 280.9 300.3 280.9 302.3C280.9 304.6 280.6 306.8 279.9 309.1C279 311.8 277.8 314.4 276 316.9C274.4 319 272.5 321 270.2 322.7L266.1 321.3" stroke="#1a1a1a" stroke-width="0.9" fill="none"/>
<path d="M274.1 291.5C275.5 292.8 276.4 294.5 277 296.5C277.6 298 277.9 299.7 278 301.4C278 304 277.3 306.8 276 309.6C275 311.8 273.7 313.9 272.1 315.9C270.4 317.9 268.4 319.7 266.1 321.3" stroke="#1a1a1a" stroke-width="0.9" fill="none"/>
<path d="M266.1 321.3C266.3 323.6 267 325.9 267.3 335C267.6 344.1 267.5 362 268.1 375.8C268.8 389.6 270.2 404.8 271.2 418C272.2 431.2 273 442.2 274 455C275 467.8 276.1 482.5 277 495C277.9 507.5 278.8 519.2 279.6 530C280.4 540.8 281.1 553 282 560C282.9 567 283.6 568.2 285 572C286.4 575.8 287.2 578.1 290.1 582.8C293 587.4 297.7 594.8 302.6 599.9C307.5 605 314.3 609.5 319.7 613.6C325.1 617.7 332.3 622.8 334.8 624.6" stroke="#1a1a1a" stroke-width="0.9" fill="none"/>
<path d="M269.4 323C269.5 325 269.4 326.2 269.8 335C270.2 343.8 271.3 362 272.1 375.8C272.9 389.6 273.9 404.8 274.8 418C275.7 431.2 276.5 442.2 277.4 455C278.3 467.8 279.5 482.5 280.4 495C281.3 507.5 282.2 519.2 283 530C283.8 540.8 284.4 553 285.2 560C286 567 286.6 568.2 288 572C289.4 575.8 290.5 578.3 293.5 582.8C296.5 587.3 301.1 593.9 306 598.8C310.9 603.6 318.1 608.4 323.1 611.9C328.1 615.4 334 618.3 336.2 619.6" stroke="#1a1a1a" stroke-width="0.9" fill="none"/>
<path d="M336.2 619.6C338 617.5 344 616.3 351.6 616C360 615.8 367 618.5 371.5 622.5C377 627.5 378.5 633 375.5 637C374.5 638.5 373 639.7 370.9 640.5L432.8 671.5L428.9 677.9L369.6 644.4" stroke="#1a1a1a" stroke-width="0.9" fill="none"/>
<path d="M334.8 624.6C340 621.6 346 621 351.6 621C359 621 365.5 623 369.5 626.5C373.5 630 374.5 634 372.5 637.5C371.8 639.5 370.5 642.5 369.6 644.4" stroke="#1a1a1a" stroke-width="0.9" fill="none"/>
<path d="M160.9 278.5L160.9 523.5M187.6 293L187.6 523.5" stroke="#1a1a1a" stroke-width="0.9" fill="none"/>
<path d="M155.3 529.5L155.6 545.5C161 549.5 168 551.5 174.2 551.5C181 551.5 188 549.5 193 545.5L193.2 529.5" stroke="#111" stroke-width="1.2" fill="#fff"/>
<path d="M155.3 529.5C156 526 158.5 524 161 523.2M193.2 529.5C192.5 526 190 524 187.6 523.2M155.3 529.5C160 535 167 537.2 174.2 537.2C181.5 537.2 188.5 535 193.2 529.5M160.9 523.5C163 529 168 531.5 174.2 531.5C180.5 531.5 185.5 529 187.6 523.5" stroke="#111" stroke-width="1.2" fill="none"/>
<path d="M157.4 532L157.6 547M162 535L162.2 549.3M172.5 537.2L172.6 551.4M185.6 535.2L185.5 549.6M190.8 532.2L190.8 547.3" stroke="#111" stroke-width="1.2"/>
<path d="M160.4 549L160.4 574C163 577.5 168 579 173.3 579C178.5 579 183.5 577.5 186.2 574L186.2 549.6" stroke="#1a1a1a" stroke-width="0.9" fill="none"/>
<path d="M138.7 530.5C137.5 546 153 561 174 561C194 561 208.5 552.5 208.9 543.5C209 540.5 207.8 538 206 536" stroke="#1a1a1a" stroke-width="0.9" fill="none"/>
<path d="M201.8 531.6L210.3 534.9L206 539.7Z" fill="#111" stroke="none"/>
<path d="M157.3 250.1L185.4 233.3L200.9 243.6L201 247M157.3 250.1L157.7 274.6L160.9 278.5M159.2 251.5L185.4 235.6L198 244M159.2 251.5L159.4 273.5M157.3 250.1L159.2 251.5M161.5 254L161.6 277" stroke="#1a1a1a" stroke-width="0.9" fill="none"/>
<ellipse cx="184.2" cy="268.2" rx="21.4" ry="27.4" stroke-width="0.95" stroke="#111" fill="#fff" transform="rotate(15 184.2 268.2)"/>
<ellipse cx="186.2" cy="268.6" rx="18.6" ry="25.2" stroke-width="0.95" stroke="#111" fill="none" transform="rotate(15 186.2 268.6)"/>
<ellipse cx="185.6" cy="268.4" rx="15.2" ry="21.5" stroke-width="0.9" stroke="#111" fill="none" transform="rotate(15 185.6 268.4)"/>
<ellipse cx="184.3" cy="267.5" rx="11.8" ry="17.4" stroke-width="0.9" stroke="#111" fill="none" transform="rotate(15 184.3 267.5)"/>
<path d="M172.9 259.2C173.2 258.7 174.1 256.9 174.7 255.9C175.4 254.9 176.2 253.9 177 253C177.8 252.1 178.7 251.3 179.5 250.6C180.4 249.9 181.3 249.3 182.3 248.8C183.2 248.4 184.2 248 185.1 247.7C186.1 247.4 187 247.3 188 247.3C188.9 247.2 189.9 247.3 190.8 247.5C191.7 247.7 192.6 248.1 193.4 248.5C194.2 248.9 195 249.5 195.7 250.1C196.5 250.8 197.4 252 197.8 252.4" stroke="#111" stroke-width="2.2" fill="none"/>
<path d="M186.1 283.6C185.8 283.7 184.8 284.1 184.2 284.3C183.5 284.5 182.9 284.5 182.3 284.6C181.6 284.6 181 284.6 180.4 284.4C179.8 284.3 179.2 284.1 178.6 283.9C178.1 283.6 177.5 283.3 177 282.9C176.5 282.6 176 282.1 175.5 281.6C175.1 281.1 174.7 280.5 174.3 279.9C173.9 279.3 173.6 278.7 173.3 277.9C173 277.2 172.8 276.5 172.6 275.7C172.4 274.9 172.2 273.7 172.2 273.3" stroke="#111" stroke-width="2.2" fill="none"/>
<path d="M183.2 262.2L195.5 268.8L194 279L181 274.5Z" stroke="#111" stroke-width="0.9" fill="#fff"/>
<ellipse cx="183" cy="268.4" rx="3.9" ry="6.1" stroke-width="0.9" stroke="#111" fill="#fff" transform="rotate(15 183 268.4)"/>
<path d="M184.5 264L196 269.5M183 272.8L194.5 277.5" stroke="#111" stroke-width="0.9"/>
<ellipse cx="186" cy="269.6" rx="2.6" ry="4.3" stroke-width="0.8" stroke="#111" fill="#fff" transform="rotate(15 186 269.6)"/>
<ellipse cx="212.5" cy="281.9" rx="19.4" ry="25.8" stroke-width="1.15" stroke="#111" fill="#8a8a8a" transform="rotate(16 212.5 281.9)"/>
<ellipse cx="213.6" cy="281.7" rx="18" ry="24.4" stroke-width="0.6" stroke="#5a5a5a" fill="none" transform="rotate(16 213.6 281.7)"/>
<ellipse cx="215.7" cy="281.1" rx="15.2" ry="22.4" stroke-width="1.05" stroke="#111" fill="#fff" transform="rotate(16 215.7 281.1)"/>
<ellipse cx="217.2" cy="281" rx="12.6" ry="19.6" stroke-width="0.8" stroke="#111" fill="none" transform="rotate(16 217.2 281)"/>
<path d="M226.1 266.4C226.4 267 227.5 268.3 228 269.5C228.5 270.7 228.9 272.1 229.1 273.6C229.3 275.1 229.3 276.7 229.2 278.3C229.1 279.9 228.8 281.7 228.4 283.3C227.9 284.9 227.3 286.6 226.6 288C225.9 289.5 225.1 291 224.2 292.2C223.3 293.4 222.2 294.5 221.2 295.4C220.1 296.2 219 296.9 217.9 297.3C216.9 297.7 215.7 297.8 214.7 297.8C213.7 297.7 212.3 296.9 211.8 296.8" stroke="#1a1a1a" stroke-width="0.9" fill="none"/>
<g transform="translate(233.1 231.4) rotate(-60.2)"><path d="M0 0L9.5 -2.8600000000000003L9.5 2.8600000000000003Z" stroke="#1a1a1a" stroke-width="0.9" fill="#fff"/><path d="M9.5 -5.2C8.0 -2.6 8.0 2.6 9.5 5.2L50.0 13.4L56.0 13.4C57.5 13.4 57.5 13.4 57.5 11.9L57.5 -11.9C57.5 -13.4 57.5 -13.4 56.0 -13.4L50.0 -13.4Z" stroke="#111" stroke-width="1.15" fill="#fff"/><path d="M50.0 -13.4L50.0 13.4" stroke="#111" stroke-width="0.9"/><rect x="52.2" y="-9.4" width="2.6" height="18.8" rx="1.3" fill="#333" stroke="#111" stroke-width="0.9"/><text x="29.8" y="3.7" text-anchor="middle" font-family="Liberation Sans, sans-serif" font-size="10.2" fill="#111" stroke="none">Silicon</text></g>
<line x1="233.1" y1="231.4" x2="182" y2="246.8" stroke-width="1.0"/>
<path d="M177.2 248.6L183.6 243.7L185.2 249.1Z" fill="#111" stroke="none"/>
<line x1="233.1" y1="231.4" x2="204.5" y2="264" stroke-width="1.0"/>
<path d="M201.2 267.6L204.1 260.1L208.3 263.8Z" fill="#111" stroke="none"/>
<g transform="translate(440.5 693.4) rotate(-25.6)"><path d="M0 0L10.5 -3.08L10.5 3.08Z" stroke="#1a1a1a" stroke-width="0.9" fill="#fff"/><path d="M10.5 -5.6C9.0 -2.8 9.0 2.8 10.5 5.6L65.5 13.8L72.5 13.8C74 13.8 74 13.8 74 12.3L74 -12.3C74 -13.8 74 -13.8 72.5 -13.8L65.5 -13.8Z" stroke="#111" stroke-width="1.15" fill="#fff"/><path d="M65.5 -13.8L65.5 13.8" stroke="#111" stroke-width="0.9"/><rect x="67.7" y="-9.8" width="2.6" height="19.6" rx="1.3" fill="#333" stroke="#111" stroke-width="0.9"/><text x="39" y="4.7" text-anchor="middle" font-family="Liberation Sans, sans-serif" font-size="13" fill="#111" stroke="none">Silicon</text></g>
<line x1="440.5" y1="693.4" x2="387" y2="685.8" stroke-width="1.1"/>
<path d="M381.6 685L390.5 683L389.6 689.4Z" fill="#111" stroke="none"/>
<line x1="440.5" y1="693.4" x2="383" y2="738.6" stroke-width="1.1"/>
<path d="M378.6 742L383.3 734.2L387.3 739.3Z" fill="#111" stroke="none"/>
<ellipse cx="302.3" cy="324.6" rx="17.6" ry="24.6" stroke-width="0.95" stroke="#111" fill="#fff" transform="rotate(20 302.3 324.6)"/>
<ellipse cx="299.8" cy="323" rx="17.8" ry="24.8" stroke-width="1.1" stroke="#111" fill="#fff" transform="rotate(20 299.8 323)"/>
<ellipse cx="299.8" cy="323" rx="15.6" ry="22.4" stroke-width="0.9" stroke="#111" fill="none" transform="rotate(20 299.8 323)"/>
<ellipse cx="299.6" cy="323" rx="12.2" ry="18" stroke-width="1" stroke="#111" fill="none" transform="rotate(20 299.6 323)"/>
<ellipse cx="298.6" cy="322.6" rx="4.6" ry="7" stroke-width="1" stroke="#111" fill="#fff" transform="rotate(20 298.6 322.6)"/>
<ellipse cx="298.6" cy="322.6" rx="2.9" ry="4.8" stroke-width="0.8" stroke="#111" fill="none" transform="rotate(20 298.6 322.6)"/>
<path d="M300 315.6L305.5 305.5M302.8 317.6L308.8 309M303.2 324.2L311.6 321M302.3 327.8L310 326.6M297 329.6L292.4 340M294.2 327.4L289 336.6M294 321L287.6 323.4M295 317.6L288.6 318.6" stroke="#111" stroke-width="1"/>
<path d="M316.4 331.5L321.5 328.2L328.8 329L330.6 333.5L329.6 339L324.5 341.6L318 340.6L315.4 336.4Z" stroke="#1a1a1a" stroke-width="0.9" fill="#fff"/>
<ellipse cx="325.2" cy="334.8" rx="3.6" ry="5" stroke-width="1" stroke="#111" fill="#fff" transform="rotate(20 325.2 334.8)"/>
<ellipse cx="325.4" cy="334.9" rx="2" ry="3.2" stroke-width="0.8" stroke="#111" fill="none" transform="rotate(20 325.4 334.9)"/>
<path d="M318 340.6L321 333.4L316.4 331.5M321 333.4L321.5 328.2" stroke="#111" stroke-width="0.8" fill="none"/>
<path d="M319.6 320.4C322.5 318.8 326 319.2 328.6 322" stroke="#111" stroke-width="2.6" fill="none"/>
<path d="M330.2 326L325 322.6L330.3 319.7Z" fill="#111" stroke="none"/>
<path d="M357.7 332.7L357.9 323.3C358 321 363.3 320.7 363 323L361.6 332.5M352.1 335.3L349.5 326.7C348.8 324.5 354.1 322 354.5 324.2L356 333.3M347.4 339.7L342.3 332.8C341.1 331.1 345.7 326.7 346.7 328.6L350.8 336.2M343.9 345.2L337 340.7C335.3 339.6 338.8 333.9 340.4 335.3L346.5 340.8M341.7 351.5L333.7 349.8C331.7 349.4 333.8 342.9 335.7 343.6L343.3 346.5M341 358L332.7 359.3C330.6 359.6 331.1 353 333.1 353L341.4 353M341.9 364L334.1 368.1C332.1 369.1 330.9 363.1 332.9 362.3L341 359.4M344.1 368.7L337.5 375.1C335.8 376.8 333.1 371.7 334.9 370.3L342.2 364.9" stroke="#111" stroke-width="1.05" fill="#fff"/>
<ellipse cx="360.2" cy="352.2" rx="13.7" ry="19.4" stroke-width="1" stroke="#111" fill="#fff" transform="rotate(20 360.2 352.2)"/>
<path d="M357.6 351.4L360.8 348.6L362 352.4L358.8 355.2Z" stroke="#111" stroke-width="0.9" fill="#999"/>
<path d="M362.6 325.4C365.5 325.5 367 328 366.2 331.5M369.4 336C370.4 334.4 370.2 331.2 368.6 329" stroke="#111" stroke-width="1" fill="none"/>
<path d="M337 368.5C338.5 371.6 341 373.6 344 374M346 374.4C348.5 373.6 351 372.5 352.6 371" stroke="#111" stroke-width="1.1" fill="none"/>
<path d="M385.2 355.2C394 351 405 349.6 415.8 351.2C419 352 421 354.5 421.5 357.6C421 368 410 388 389.3 399.5C386 385 383.2 370 385.2 355.2Z" stroke="#1a1a1a" stroke-width="0.9" fill="#fff"/>
<path d="M385.2 355.2L378 350.4C382 343.5 388.5 338.6 395.7 337.5C400 336.8 404 338 407 339.9C411 342.5 414 347 415.8 351.2M378 350.4C371.5 356 368.3 361.5 368.3 367.3C368 373.5 368.5 379.5 369.9 385C371.5 389.6 374.5 392.8 378 394.7L389.3 399.5" stroke="#1a1a1a" stroke-width="0.9" fill="none"/>
<path d="M350.4 489L350.4 509.6C350.8 511.2 352.2 511.6 353.6 511.6C355 511.6 356.4 511.2 356.7 509.6L356.7 489Z" stroke="#1a1a1a" stroke-width="0.9" fill="#fff"/>
<path d="M335.6 479.2C337 485 344 490.6 353.5 490.6C363 490.6 370.5 485 371.4 479.2" stroke="#111" stroke-width="1" fill="#fff"/>
<path d="M336.4 481.8C339 486.6 345.5 489.2 353.5 489.2C361.5 489.2 368 486.6 370.6 481.8M337.6 483.6C340.5 487.2 346 488.2 353.5 488.2C361 488.2 366.6 487.2 369.4 483.6" stroke="#111" stroke-width="1.1" fill="none"/>
<ellipse cx="353.5" cy="477.2" rx="18" ry="10.4" stroke-width="1" stroke="#111" fill="#fff"/>
<path d="M348.7 528.5L348.7 539.4C349.6 541 351.6 541.4 353.7 541.4C355.8 541.4 357.8 541 358.7 539.4L358.7 528.5Z" stroke="#1a1a1a" stroke-width="0.9" fill="#fff"/>
<path d="M346.1 522.5L349 519.2L355.6 518.6L359.4 521.2L359.6 526.4L356.4 529.6L349.8 529.8L346.2 527.2Z" stroke="#111" stroke-width="1" fill="#fff"/>
<path d="M346.1 522.5L349.8 525L356.4 524.6L359.4 521.2M349.8 525L349.8 529.8M356.4 524.6L356.4 529.6" stroke="#111" stroke-width="0.9" fill="none"/>
<ellipse cx="352.8" cy="522" rx="3.8" ry="2.2" stroke-width="0.9" stroke="#111" fill="#fff"/>
<ellipse cx="352.8" cy="522" rx="2.2" ry="1.2" stroke-width="0.8" stroke="#111" fill="none"/>
<path d="M351.2 530L351.2 540.6" stroke="#888" stroke-width="0.7"/>
<path d="M367.6 519.6C372.5 521 375.8 524.5 375.8 528.5C375.8 533 372 536.5 366.6 538.4L366.2 536.8C370.6 535 373.2 532 373.2 528.5C373.2 525.4 370.8 522.6 366.8 521Z" fill="#111" stroke="#111" stroke-width="0.9"/>
<path d="M363.2 539.4L368.8 536L369.5 541.1Z" fill="#111" stroke="none"/>
<path d="M336.4 578.4C337.5 581.5 339 584.6 341 585.2C344 586.4 349 587 352.6 587C356.5 587 361 586.4 364 585.2C366 584.6 367.6 581.5 368.6 578.4" stroke="#1a1a1a" stroke-width="0.9" fill="#fff"/>
<ellipse cx="352.6" cy="566.2" rx="26.2" ry="14.4" stroke-width="1" stroke="#111" fill="#fff"/>
<ellipse cx="352.8" cy="565.6" rx="21" ry="11.2" stroke-width="0.9" stroke="#111" fill="none"/>
<ellipse cx="352.8" cy="569.6" rx="17" ry="9.4" stroke-width="0.9" stroke="#111" fill="none"/>
<path d="M339.6 573.4C343 569.2 347.5 568 352.8 568C358 568 362.5 569.2 366 573.4M341.8 575.4L347.6 571.4L350.6 573.6M363.8 575.4L358 571.4L355 573.6M346 578.2L349.6 575M359.6 578.2L356 575" stroke="#111" stroke-width="0.9" fill="none"/>
<ellipse cx="352.8" cy="576" rx="3.4" ry="2.1" stroke-width="0.9" stroke="#111" fill="#fff"/>
<path d="M330.5 572C335 579 343 581.6 352.6 581.6C362 581.6 370.5 579 375 572" stroke="#111" stroke-width="0.9" fill="none"/>
<ellipse cx="353.2" cy="597.8" rx="16.6" ry="9.5" stroke-width="2.2" stroke="#222" fill="#fff"/>
<ellipse cx="353.2" cy="597.2" rx="14.2" ry="7.4" stroke-width="1" stroke="#111" fill="none"/>
<ellipse cx="172.5" cy="589.3" rx="15.3" ry="8.1" stroke-width="1.1" stroke="#111" fill="#fff"/>
<ellipse cx="172.5" cy="589" rx="13.3" ry="6.4" stroke-width="1" stroke="#111" fill="none"/>
<path d="M156.2 609.6L156.6 614.6C158.5 619.4 164.5 621.8 171 621.8C177.5 621.8 183.8 619.4 185.8 614.6L186.2 609.6" stroke="#111" stroke-width="1.1" fill="#fff"/>
<path d="M156.6 612.6C159 617.4 165 619.6 171 619.6C177 619.6 183 617.4 185.8 612.6" stroke="#111" stroke-width="1.4" fill="none"/>
<ellipse cx="171.2" cy="609.4" rx="15" ry="7.6" stroke-width="1.1" stroke="#111" fill="#fff"/>
<ellipse cx="171.2" cy="609.8" rx="12.6" ry="5.8" stroke-width="0.9" stroke="#111" fill="none"/>
<path d="M169.3 615L169.3 606.2L166.6 606.2L170.9 600.4L175.2 606.2L172.5 606.2L172.5 615Z" fill="#111" stroke="#111" stroke-width="0.6"/>
<path d="M157.2 632L157.2 693C160 697.5 165.5 699.6 171.5 699.6C177.5 699.6 183.2 697.5 186 693L186.2 632Z" stroke="#1a1a1a" stroke-width="0.9" fill="#fff"/>
<path d="M186.2 655.4L204.2 664.5L188 690.8L171.7 678.7C171 668 176 658.5 186.2 655.4Z" stroke="#1a1a1a" stroke-width="0.9" fill="#fff"/>
<path d="M171.7 678.7C171 668 177.5 659 186.2 655.4" stroke="#111" stroke-width="0.9" fill="none"/>
<path d="M180.2 686.1C179.8 685.7 178.7 684.8 178.2 683.9C177.7 683 177.3 681.9 177.1 680.8C176.8 679.6 176.8 678.3 176.8 677C176.9 675.6 177.2 674.2 177.6 672.8C178 671.4 178.6 670 179.2 668.6C179.9 667.3 180.8 666 181.6 664.9C182.5 663.7 183.5 662.7 184.6 661.8C185.6 661 186.7 660.2 187.8 659.7C188.9 659.2 190 658.9 191 658.8C192 658.7 193.4 659.1 193.9 659.1" stroke="#111" stroke-width="0.9" fill="none"/>
<path d="M182 687C181.6 686.6 180.5 685.7 180 684.8C179.5 683.9 179.1 682.8 178.9 681.7C178.6 680.5 178.6 679.2 178.6 677.9C178.7 676.5 179 675.1 179.4 673.7C179.8 672.3 180.4 670.9 181 669.5C181.7 668.2 182.6 666.9 183.4 665.8C184.3 664.6 185.3 663.6 186.4 662.7C187.4 661.9 188.5 661.1 189.6 660.6C190.7 660.1 191.8 659.8 192.8 659.7C193.8 659.6 195.2 660 195.7 660" stroke="#111" stroke-width="0.9" fill="none"/>
<path d="M183.8 687.9C183.4 687.5 182.3 686.6 181.8 685.7C181.3 684.8 180.9 683.7 180.7 682.6C180.4 681.4 180.4 680.1 180.4 678.8C180.5 677.4 180.8 676 181.2 674.6C181.6 673.2 182.2 671.8 182.8 670.4C183.5 669.1 184.4 667.8 185.2 666.7C186.1 665.5 187.1 664.5 188.2 663.6C189.2 662.8 190.3 662 191.4 661.5C192.5 661 193.6 660.7 194.6 660.6C195.6 660.5 197 660.9 197.5 660.9" stroke="#111" stroke-width="0.9" fill="none"/>
<path d="M185.6 688.9C185.2 688.5 184.1 687.6 183.6 686.7C183.1 685.8 182.7 684.7 182.5 683.6C182.2 682.4 182.2 681.1 182.2 679.8C182.3 678.4 182.6 677 183 675.6C183.4 674.2 184 672.8 184.6 671.4C185.3 670.1 186.2 668.8 187 667.7C187.9 666.5 188.9 665.5 190 664.6C191 663.8 192.1 663 193.2 662.5C194.3 662 195.4 661.7 196.4 661.6C197.4 661.5 198.8 661.9 199.3 661.9" stroke="#111" stroke-width="0.9" fill="none"/>
<ellipse cx="195.2" cy="676.8" rx="9.6" ry="15.2" stroke-width="1" stroke="#111" fill="#fff" transform="rotate(27 195.2 676.8)"/>
<ellipse cx="195.8" cy="677" rx="7.6" ry="13" stroke-width="0.9" stroke="#111" fill="none" transform="rotate(27 195.8 677)"/>
<ellipse cx="171.7" cy="632" rx="14.8" ry="7" stroke-width="1.1" stroke="#111" fill="#fff"/>
<ellipse cx="171.7" cy="632.4" rx="12.8" ry="5.6" stroke-width="0.9" stroke="#111" fill="none"/>
<path d="M157.2 634.4C160 640.9 166 642.8 171.7 642.8C177.5 642.8 183.4 640.9 186.2 634.4" stroke="#111" stroke-width="1" fill="none"/>
<path d="M157.2 636.6C160 643.1 166 645.0 171.7 645.0C177.5 645.0 183.4 643.1 186.2 636.6" stroke="#111" stroke-width="1" fill="none"/>
<path d="M157.2 638.8C160 645.3 166 647.1999999999999 171.7 647.1999999999999C177.5 647.1999999999999 183.4 645.3 186.2 638.8" stroke="#111" stroke-width="1" fill="none"/>
<path d="M157.2 684C160 690 166 692 171.6 692C177.4 692 183.2 690 186 684" stroke="#111" stroke-width="1" fill="none"/>
<path d="M157.2 686.6C160 692.6 166 694.6 171.6 694.6C177.4 694.6 183.2 692.6 186 686.6" stroke="#111" stroke-width="1" fill="none"/>
<path d="M157.2 689.2C160 695.2 166 697.2 171.6 697.2C177.4 697.2 183.2 695.2 186 689.2" stroke="#111" stroke-width="1" fill="none"/>
<path d="M157.2 691.6C160 697.6 166 699.6 171.6 699.6C177.4 699.6 183.2 697.6 186 691.6" stroke="#111" stroke-width="1" fill="none"/>
<path d="M158 678.5C161 682.5 166 684 172 683.6" stroke="#111" stroke-width="0.9" fill="none"/>
<ellipse cx="214.7" cy="686.3" rx="10.4" ry="15.4" stroke-width="1.05" stroke="#111" fill="#fff" transform="rotate(25 214.7 686.3)"/>
<ellipse cx="215.3" cy="686.4" rx="8.6" ry="13.4" stroke-width="0.9" stroke="#111" fill="none" transform="rotate(25 215.3 686.4)"/>
<ellipse cx="216.2" cy="686.8" rx="7.6" ry="12.2" stroke-width="0.8" stroke="#111" fill="none" transform="rotate(25 216.2 686.8)"/>
<ellipse cx="234.8" cy="698.7" rx="9.6" ry="14.8" stroke-width="1.05" stroke="#111" fill="#fff" transform="rotate(25 234.8 698.7)"/>
<ellipse cx="235.4" cy="698.9" rx="7.8" ry="12.8" stroke-width="0.9" stroke="#111" fill="none" transform="rotate(25 235.4 698.9)"/>
<path d="M259.3 696.8L303.2 717.3L307.2 721.9L325.4 734.4L344.7 774.1L316.3 760L295.8 748.1L287.8 749.3L245.6 718.5Z" stroke="none" fill="#fff"/>
<ellipse cx="251.9" cy="707.6" rx="6.8" ry="12.8" stroke-width="0.1" stroke="#fff" fill="#fff" transform="rotate(32 251.9 707.6)"/>
<path d="M245.1 718.5C244.9 718.2 244.2 717.7 243.9 717.2C243.5 716.6 243.3 715.9 243.1 715.2C243 714.5 243 713.6 243 712.7C243.1 711.8 243.3 710.9 243.5 709.9C243.8 708.9 244.1 707.9 244.6 706.9C245 705.9 245.5 704.9 246.1 704C246.7 703.1 247.4 702.1 248.1 701.3C248.8 700.5 249.5 699.7 250.3 699.1C251.1 698.4 251.9 697.8 252.6 697.4C253.4 696.9 254.2 696.6 254.9 696.4C255.6 696.2 256.3 696.1 257 696.2C257.6 696.2 258.4 696.7 258.7 696.7" stroke="#111" stroke-width="0.95" fill="none"/>
<path d="M233.1 695.7L241.4 701" stroke="#111" stroke-width="2.8" stroke-linecap="butt"/>
<path d="M246.2 704L239 703.3L242.4 697.8Z" fill="#111" stroke="none"/>
<path d="M259.3 696.8L290 712.4" stroke="#111" stroke-width="2"/>
<path d="M245.6 718.5L275 735.2M307.2 721.9L325.4 734.4M295.8 748.1L344.7 774.1" stroke="#1a1a1a" stroke-width="0.9" fill="none"/>
<path d="M266.7 751C259.5 749.5 255 744 255.9 737.9C257 728.5 261.6 717.3 274.1 702.5C278.5 698.6 284 696 288.9 696.2C293 696.4 296 697.4 297.2 699.6" stroke="#111" stroke-width="0.9" fill="none"/>
<path d="M298 708.6L293.9 701L300.4 700.3Z" fill="#111" stroke="none"/>
<path d="M290.1 712.2C283.5 715.6 279.5 720 278 723.5C275.5 728 274 732 274.1 735.6C274 741 276 745 278.7 747C281 748.6 284 749.6 286.6 749.8L287.8 749.3L295.8 748.1C293 745 291.6 740 293 733.6C294.6 727.2 299 721 307.2 721.9L303.2 717.3Z" stroke="#111" stroke-width="1.1" fill="#fff"/>
<path d="M303.2 717.3C297 719.6 293.5 722 291.2 724.2C287.5 728 285.4 731.4 284.9 734.4C284 738.5 284 742 284.4 744.7C285 747 286.4 748.6 287.8 749.3" stroke="#111" stroke-width="1.1" fill="none"/>
<path d="M281.6 718.4L292.4 723M278.6 722.4L289 727M274.6 732.4L285 736.6M274.6 738.6L284.2 742.4M277.6 746L285 748" stroke="#111" stroke-width="1.5"/>
<path d="M288.6 713.6L300.6 718.4" stroke="#111" stroke-width="1.6"/>
<path d="M325.2 742.5C327.5 752 332 763 337 771.2C341 776.5 347 779.4 353.4 779.4C360 779.4 366.5 777 370.8 773.1C376 766 380.5 755 382.6 744" stroke="#1a1a1a" stroke-width="0.9" fill="#fff"/>
<path d="M331 757.4C337 762.4 345 764.4 354 764.4C363 764.4 371.5 762.4 377.6 757.4M333.5 763.4C339 767.6 346 769.4 354 769.4C362 769.4 369.6 767.6 375 763.4" stroke="#111" stroke-width="0.9" fill="none"/>
<ellipse cx="354" cy="739.4" rx="29.6" ry="16.4" stroke-width="1.15" stroke="#111" fill="#fff"/>
<ellipse cx="354" cy="739.8" rx="27.6" ry="14.8" stroke-width="0.9" stroke="#111" fill="none"/>
<ellipse cx="354" cy="744.2" rx="19" ry="10.6" stroke-width="0.9" stroke="#111" fill="none"/>
<path d="M339.6 748.4C343.5 744.2 348.5 743 354 743C359.5 743 364.6 744.2 368.6 748.4M341.6 750.6L347.8 746.2L351.4 748.6M366.6 750.6L360.4 746.2L356.8 748.6M346.4 753.6L350.2 750.2M361.8 753.6L358 750.2" stroke="#111" stroke-width="0.95" fill="none"/>
<ellipse cx="354" cy="751.4" rx="4" ry="2.4" stroke-width="0.9" stroke="#111" fill="#fff"/>
<path d="M326 690.5L326.4 695C330 704.5 341 709.8 354 709.8C367 709.8 378 704.5 381.4 695L381.8 690.5" stroke="#111" stroke-width="1.1" fill="#6f6f6f"/>
<path d="M326.6 693.5C330.5 702.5 341.5 707.4 354 707.4C366.5 707.4 377.5 702.5 381.2 693.5" stroke="#111" stroke-width="1" fill="none"/>
<ellipse cx="354" cy="690" rx="27.9" ry="17" stroke-width="1.1" stroke="#111" fill="#7d7d7d"/>
<ellipse cx="354" cy="689.4" rx="20.6" ry="11.8" stroke-width="1" stroke="#111" fill="#fff"/>
<ellipse cx="354" cy="690.6" rx="17.6" ry="9.4" stroke-width="0.8" stroke="#111" fill="none"/>
<ellipse cx="170.9" cy="732.8" rx="15.2" ry="8.9" stroke-width="1.1" stroke="#111" fill="#fff"/>
<ellipse cx="170.9" cy="732.5" rx="13.2" ry="7.1" stroke-width="1" stroke="#111" fill="none"/>
<path d="M158.5 773.6C158.6 780 160 785.5 162.5 789.5L180.9 805.6L206.4 820.4C209 822.4 214 823.4 220.5 823.2C227 822.8 232 821.2 234.7 818.6C236.6 815.4 237.4 810.6 237.4 806.4L240.4 808L250.7 783.3L224.1 770.9C221.5 770 219 770 217 770.2C214.6 770.4 212.6 771 210.8 771.8L190.4 761.2Z" stroke="#1a1a1a" stroke-width="0.9" fill="#fff"/>
<path d="M163.4 774.5C163.6 780 165 784.4 167.6 787.6L181 799.6" stroke="#111" stroke-width="0.9" fill="none"/>
<path d="M180.7 787.8L210.8 771.8" stroke="#111" stroke-width="2.3"/>
<path d="M180.7 787.8L181.4 805.6" stroke="#111" stroke-width="2.1"/>
<path d="M180.7 787.8L204.2 801.6M204.6 783.3C203 789 203.2 796 204.4 801.6L204.6 806.4M204.6 783.3C206 777.6 210.5 773.4 217 770.2M204.6 806.4L206.4 820.4M204.6 806.4C212 810.5 222 811.4 230 809" stroke="#111" stroke-width="0.9" fill="none"/>
<path d="M206 786C208.5 792 213 796.4 219.6 798.6L226.4 800.4M205.6 790C208 796 212.5 800 218 801.8" stroke="#111" stroke-width="1" fill="none"/>
<path d="M206.6 795.4L206.8 803.2L212.6 805.6L219.4 806.4L219.4 799.4M212.6 805.6L212.6 798.6" stroke="#111" stroke-width="1.2" fill="none"/>
<path d="M231.4 792.6L229.4 802.4L237.6 805.4L239.6 796Z" stroke="#111" stroke-width="1" fill="#fff"/>
<path d="M152.3 757L153.4 770.5C157 776 164 778.6 171.2 778.6C178.5 778.6 185.4 776 188.8 770.5L189.9 757" stroke="#111" stroke-width="1.15" fill="#fff"/>
<path d="M156.6 764.4L157.2 774M168.4 768.4L168.6 778.4M173 768.4L173 778.4M184.6 764.8L184.2 774.2M155 769C160 773.4 165.5 774.6 171.2 774.6C177 774.6 182.6 773.4 187.6 769" stroke="#111" stroke-width="1.1" fill="none"/>
<ellipse cx="171" cy="756.8" rx="18.8" ry="10.9" stroke-width="1.15" stroke="#111" fill="#fff"/>
<ellipse cx="171" cy="757" rx="16.6" ry="9.2" stroke-width="0.9" stroke="#111" fill="none"/>
<path d="M155.8 757.2C155.9 756.8 156 755.8 156.3 755.1C156.7 754.4 157.2 753.7 157.8 753.1C158.5 752.5 159.3 751.9 160.3 751.4C161.2 750.9 162.3 750.5 163.4 750.1C164.5 749.7 165.8 749.5 167.1 749.3C168.3 749.1 169.7 749 171 749C172.3 749 173.7 749.1 174.9 749.3C176.2 749.5 177.5 749.7 178.6 750.1C179.7 750.5 180.8 750.9 181.7 751.4C182.7 751.9 183.5 752.5 184.2 753.1C184.8 753.7 185.3 754.4 185.7 755.1C186 755.8 186.1 756.8 186.2 757.2" stroke="#111" stroke-width="1" fill="none"/>
<path d="M156.8 758C156.9 757.7 157 756.7 157.3 756.1C157.6 755.5 158.1 754.9 158.7 754.3C159.3 753.7 160.1 753.2 161 752.8C161.8 752.3 162.8 751.9 163.9 751.6C165 751.3 166.1 751 167.3 750.9C168.5 750.7 169.8 750.6 171 750.6C172.2 750.6 173.5 750.7 174.7 750.9C175.9 751 177 751.3 178.1 751.6C179.2 751.9 180.2 752.3 181 752.8C181.9 753.2 182.7 753.7 183.3 754.3C183.9 754.9 184.4 755.5 184.7 756.1C185 756.7 185.1 757.7 185.2 758" stroke="#111" stroke-width="1" fill="none"/>
<path d="M157.8 758.8C157.9 758.5 158 757.6 158.2 757.1C158.5 756.5 159 756 159.6 755.5C160.1 755 160.9 754.5 161.7 754.1C162.5 753.7 163.4 753.4 164.4 753.1C165.4 752.8 166.5 752.6 167.6 752.4C168.7 752.3 169.9 752.2 171 752.2C172.1 752.2 173.3 752.3 174.4 752.4C175.5 752.6 176.6 752.8 177.6 753.1C178.6 753.4 179.5 753.7 180.3 754.1C181.1 754.5 181.9 755 182.4 755.5C183 756 183.5 756.5 183.8 757.1C184 757.6 184.1 758.5 184.2 758.8" stroke="#111" stroke-width="1" fill="none"/>
<ellipse cx="171.4" cy="760.6" rx="11.6" ry="5.6" stroke-width="0.9" stroke="#111" fill="#fff"/>
<path d="M160.4 757C163 753 167 751.4 171 751.4C175 751.4 179.4 753 181.8 757C178 755.2 175 756.4 171 759.4C167 756.4 164 755.2 160.4 757Z" fill="#555" stroke="none"/>
<path d="M169 737.4L169 745.6L166.2 745.6L170.6 751.6L175 745.6L172.2 745.6L172.2 737.4Z" fill="#222" stroke="#222" stroke-width="0.6"/>
<path d="M168.4 739.4L172.8 739.4M168.4 741.6L172.8 741.6M168.4 743.6L172.8 743.6" stroke="#fff" stroke-width="0.5"/>
<path d="M245.4 783.6L256 783L264.6 788.2L256.6 812.4L250 814.8L240.6 810C239 802 241 791 245.4 783.6Z" stroke="#111" stroke-width="1.1" fill="#fff"/>
<path d="M245.4 783.6C249 785 250 791 248.2 798.6C246.6 805.4 243.6 810 240.6 810M250 782.4C254 784.4 255 791 253 799C251.4 806 248.6 811.4 245.4 812M256 783C258.5 786 258.6 793 256.6 800.6C255 807 252.6 812.4 250 814.8M249.6 789.2L256.6 791.6M247.6 797.4L255.6 800.6M245 805.4L252.6 808.8" stroke="#111" stroke-width="1.05" fill="none"/>
<path d="M262.6 790L275.4 795.6L266.6 826.4L253.6 820.6Z" stroke="#1a1a1a" stroke-width="0.9" fill="#fff"/>
<path d="M264.9 787.2L275.4 791.4" stroke="#111" stroke-width="0.9"/>
<path d="M276.4 793.4C280.4 796.4 276.4 815.4 269 824.9C265.6 827.4 263.4 826.4 263.8 823.8M282.2 796C286.2 799 282.2 818 274.8 827.5C271.4 830 269.2 829 269.6 826.4M288 798.6C292 801.6 288 820.6 280.6 830.1C277.2 832.6 275 831.6 275.4 829M293.8 801.2C297.8 804.2 293.8 823.2 286.4 832.7C283 835.2 280.8 834.2 281.2 831.6M299.6 803.8C303.6 806.8 299.6 825.8 292.2 835.3C288.8 837.8 286.6 836.8 287 834.2" stroke="#111" stroke-width="1.5" fill="none"/>
<path d="M295.6 803.4C300.6 805 301.6 810 299.6 815.4C298 820 293.6 822.4 291 825.4C289 828 290.6 831 289.4 833C287.6 834.4 285.6 833.4 285.4 831.4" stroke="#111" stroke-width="1.3" fill="none"/>
<clipPath id="hf"><path d="M468.9 825.4L541.1 825.4L503.7 866.2L431.5 866.2Z"/></clipPath><g clip-path="url(#hf)" stroke="#111" stroke-width="1.25" stroke-linecap="butt"><path d="M394.9 866.2L432.3 825.4M398.4 866.2L435.8 825.4M401.8 866.2L439.2 825.4M405.3 866.2L442.7 825.4M408.8 866.2L446.1 825.4M412.2 866.2L449.6 825.4M415.7 866.2L453.1 825.4M419.1 866.2L456.5 825.4M422.6 866.2L460 825.4M426.1 866.2L463.4 825.4M429.5 866.2L466.9 825.4M433 866.2L470.4 825.4M436.4 866.2L473.8 825.4M439.9 866.2L477.3 825.4M443.4 866.2L480.7 825.4M446.8 866.2L484.2 825.4M450.3 866.2L487.7 825.4M453.7 866.2L491.1 825.4M457.2 866.2L494.6 825.4M460.7 866.2L498 825.4M464.1 866.2L501.5 825.4M467.6 866.2L505 825.4M471 866.2L508.4 825.4M474.5 866.2L511.9 825.4M478 866.2L515.3 825.4M481.4 866.2L518.8 825.4M484.9 866.2L522.3 825.4M488.3 866.2L525.7 825.4M491.8 866.2L529.2 825.4M495.3 866.2L532.6 825.4M498.7 866.2L536.1 825.4M502.2 866.2L539.6 825.4M505.6 866.2L543 825.4M509.1 866.2L546.5 825.4M512.6 866.2L549.9 825.4M516 866.2L553.4 825.4M519.5 866.2L556.9 825.4M522.9 866.2L560.3 825.4M526.4 866.2L563.8 825.4M529.9 866.2L567.2 825.4M533.3 866.2L570.7 825.4M536.8 866.2L574.2 825.4M540.2 866.2L577.6 825.4"/></g>
<path d="M475.8 843.2L476 851.6C478 856 483.6 858.6 489.8 858.6C496 858.6 501.6 856 503.4 851.6L503.6 843.2Z" stroke="#111" stroke-width="0.9" fill="#fff"/>
<ellipse cx="489.7" cy="843.2" rx="13.9" ry="7.9" stroke-width="1" stroke="#111" fill="#fff"/>
<path d="M477.4 846.8C480 851 484.6 852.8 489.8 852.8C495 852.8 499.6 851 502.2 846.8" stroke="#111" stroke-width="0.8" fill="none"/>
<text x="132" y="209.4" text-anchor="middle" font-family="Liberation Sans, sans-serif" font-size="12.8" fill="#1a1a1a" stroke="none">1</text>
<path d="M149 211.3L114.9 211.3L160.9 311.3" stroke="#1a1a1a" stroke-width="0.85" fill="none"/><path d="M155.4 306.2L160.9 311.3L160.5 303.8" stroke-width="0.9"/>
<text x="190" y="212" text-anchor="middle" font-family="Liberation Sans, sans-serif" font-size="12.8" fill="#1a1a1a" stroke="none">2</text>
<path d="M207.8 213.8L174.1 213.8L220.3 257.2" stroke="#1a1a1a" stroke-width="0.85" fill="none"/><path d="M213.3 254.5L220.3 257.2L217.2 250.4" stroke-width="0.9"/>
<text x="287.6" y="226.8" text-anchor="middle" font-family="Liberation Sans, sans-serif" font-size="12.8" fill="#1a1a1a" stroke="none">3</text>
<path d="M301.8 228.4L268.2 228.4L261.5 261.4" stroke="#1a1a1a" stroke-width="0.85" fill="none"/><path d="M260.1 254L261.5 261.4L265.6 255.1" stroke-width="0.9"/>
<text x="330.8" y="262.4" text-anchor="middle" font-family="Liberation Sans, sans-serif" font-size="12.8" fill="#1a1a1a" stroke="none">4</text>
<path d="M344.9 264.5L312.7 264.5L303 298.8" stroke="#1a1a1a" stroke-width="0.85" fill="none"/><path d="M302.2 291.3L303 298.8L307.6 292.9" stroke-width="0.9"/>
<text x="366.3" y="288.6" text-anchor="middle" font-family="Liberation Sans, sans-serif" font-size="12.8" fill="#1a1a1a" stroke="none">5</text>
<path d="M378.8 289.3L348.2 289.3L330.4 329.4" stroke="#1a1a1a" stroke-width="0.85" fill="none"/><path d="M330.7 321.9L330.4 329.4L335.8 324.2" stroke-width="0.9"/>
<text x="413" y="298.3" text-anchor="middle" font-family="Liberation Sans, sans-serif" font-size="12.8" fill="#1a1a1a" stroke="none">6</text>
<path d="M431.6 300L393.8 300L366.7 348.3" stroke="#1a1a1a" stroke-width="0.85" fill="none"/><path d="M367.7 340.9L366.7 348.3L372.6 343.6" stroke-width="0.9"/>
<text x="460.5" y="314.7" text-anchor="middle" font-family="Liberation Sans, sans-serif" font-size="12.8" fill="#1a1a1a" stroke="none">7</text>
<path d="M469.4 316.2L438.4 316.2L404.6 369.7" stroke="#1a1a1a" stroke-width="0.85" fill="none"/><path d="M405.9 362.3L404.6 369.7L410.7 365.3" stroke-width="0.9"/>
<text x="439" y="443.7" text-anchor="middle" font-family="Liberation Sans, sans-serif" font-size="12.8" fill="#1a1a1a" stroke="none">8</text>
<path d="M455 443.8L416.4 443.8L353.8 477.2" stroke="#1a1a1a" stroke-width="0.85" fill="none"/><path d="M358.6 471.4L353.8 477.2L361.3 476.4" stroke-width="0.9"/>
<text x="438" y="495.2" text-anchor="middle" font-family="Liberation Sans, sans-serif" font-size="12.8" fill="#1a1a1a" stroke="none">9</text>
<path d="M455 496.2L416.4 496.2L361.6 524.3" stroke="#1a1a1a" stroke-width="0.85" fill="none"/><path d="M366.5 518.6L361.6 524.3L369.1 523.6" stroke-width="0.9"/>
<text x="438.3" y="546.2" text-anchor="middle" font-family="Liberation Sans, sans-serif" font-size="12.8" fill="#1a1a1a" stroke="none">10</text>
<path d="M455 548.5L416.4 548.5L379 567.5" stroke="#1a1a1a" stroke-width="0.85" fill="none"/><path d="M383.9 561.8L379 567.5L386.5 566.9" stroke-width="0.9"/>
<text x="442.8" y="587" text-anchor="middle" font-family="Liberation Sans, sans-serif" font-size="12.8" fill="#1a1a1a" stroke="none">11</text>
<path d="M457.6 589.1L417 589.1L370.6 599.1" stroke="#1a1a1a" stroke-width="0.85" fill="none"/><path d="M376.8 594.9L370.6 599.1L378 600.4" stroke-width="0.9"/>
<text x="424.4" y="728" text-anchor="middle" font-family="Liberation Sans, sans-serif" font-size="12.8" fill="#1a1a1a" stroke="none">12</text>
<path d="M452.1 729.2L400.6 729.2L378.6 701.4" stroke="#1a1a1a" stroke-width="0.85" fill="none"/><path d="M385.1 705.1L378.6 701.4L380.7 708.6" stroke-width="0.9"/>
<text x="427" y="802.3" text-anchor="middle" font-family="Liberation Sans, sans-serif" font-size="12.8" fill="#1a1a1a" stroke="none">13</text>
<path d="M450.9 804.5L386.4 804.5L364.8 777.2" stroke="#1a1a1a" stroke-width="0.85" fill="none"/><path d="M371.3 780.9L364.8 777.2L366.9 784.4" stroke-width="0.9"/>
<text x="409.2" y="855.9" text-anchor="middle" font-family="Liberation Sans, sans-serif" font-size="12.8" fill="#1a1a1a" stroke="none">14</text>
<path d="M387.7 857.2L434.1 857.2L475 846.9" stroke="#1a1a1a" stroke-width="0.85" fill="none"/>
<path d="M469.8 851.1L475.3 846.8L468.4 845.6" stroke-width="0.9"/>
<text x="182.4" y="846" text-anchor="middle" font-family="Liberation Sans, sans-serif" font-size="12.8" fill="#1a1a1a" stroke="none">15</text>
<path d="M168.2 847.6L199.3 847.6L223.2 824.1" stroke="#1a1a1a" stroke-width="0.85" fill="none"/><path d="M220.2 831L223.2 824.1L216.3 827" stroke-width="0.9"/>
<text x="129.3" y="739.6" text-anchor="middle" font-family="Liberation Sans, sans-serif" font-size="12.8" fill="#1a1a1a" stroke="none">16</text><path d="M120.9 741.8L143.4 741.8C149.4 741.8 148.8 738.9 155.8 735.5" stroke="#1a1a1a" stroke-width="0.85" fill="none"/><path d="M151.1 740.7L155.8 735.5L148.8 735" stroke-width="0.9"/>
<text x="128.6" y="675.8" text-anchor="middle" font-family="Liberation Sans, sans-serif" font-size="12.8" fill="#1a1a1a" stroke="none">17</text><path d="M120.1 678L146.7 678C152.7 678 156.7 675.7 163.7 672.3" stroke="#1a1a1a" stroke-width="0.85" fill="none"/><path d="M159 677.5L163.7 672.3L156.7 671.8" stroke-width="0.9"/>
<text x="126.6" y="621.3" text-anchor="middle" font-family="Liberation Sans, sans-serif" font-size="12.8" fill="#1a1a1a" stroke="none">18</text><path d="M119 624L145.1 624C151.1 624 155 621.7 162 618.3" stroke="#1a1a1a" stroke-width="0.85" fill="none"/><path d="M157.3 623.5L162 618.3L155 617.8" stroke-width="0.9"/>
<text x="125.4" y="594.7" text-anchor="middle" font-family="Liberation Sans, sans-serif" font-size="12.8" fill="#1a1a1a" stroke="none">19</text><path d="M116.9 597L142.7 597C148.7 597 151.8 594.3 158.8 590.9" stroke="#1a1a1a" stroke-width="0.85" fill="none"/><path d="M154.1 596.1L158.8 590.9L151.8 590.4" stroke-width="0.9"/>
</g>
</svg>
</body>
</html>
